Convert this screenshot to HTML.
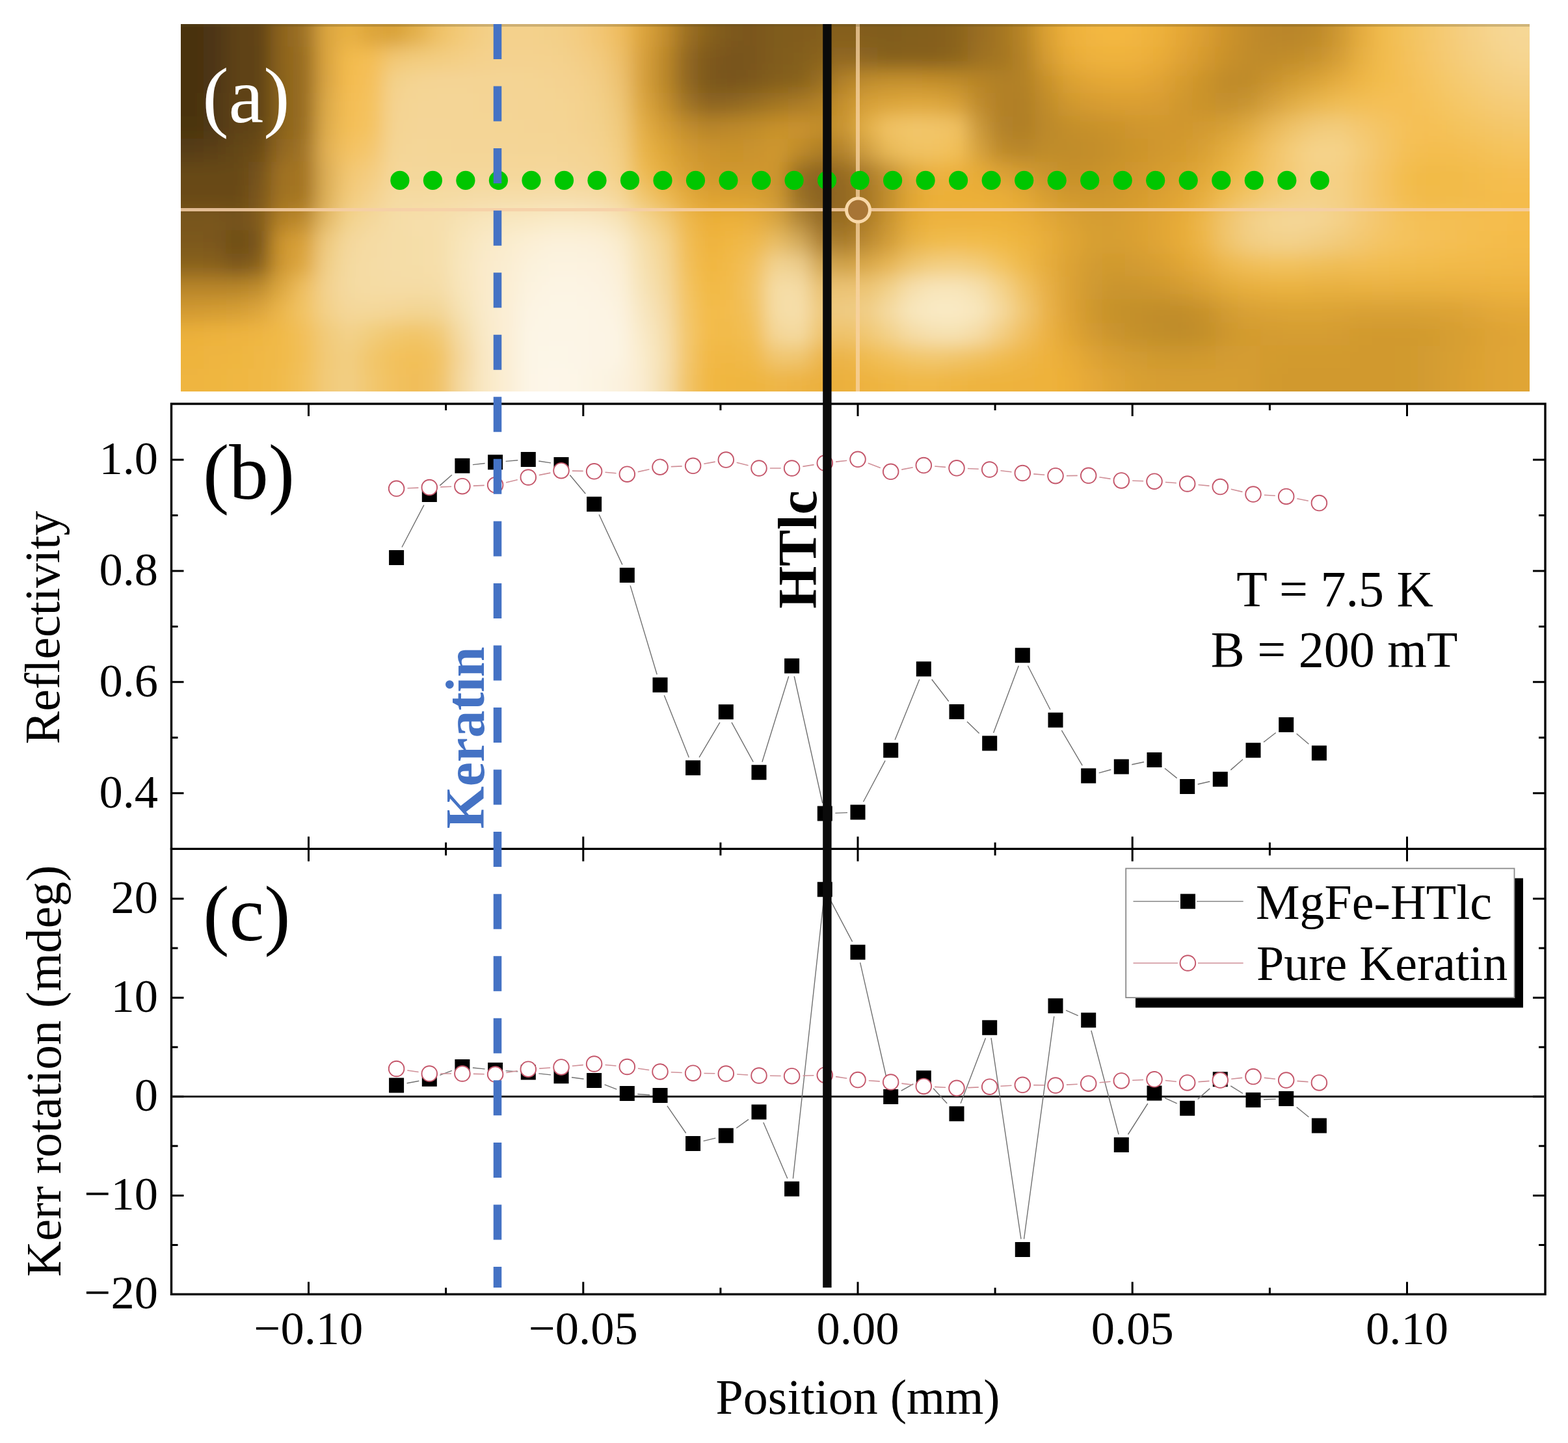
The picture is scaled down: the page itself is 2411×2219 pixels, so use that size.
<!DOCTYPE html>
<html><head><meta charset="utf-8"><title>Figure</title>
<style>html,body{margin:0;padding:0;background:#fff;}svg{display:block;}</style>
</head><body>
<svg width="2411" height="2219" viewBox="0 0 2411 2219">
<rect width="2411" height="2219" fill="#fff"/>
<defs><clipPath id="imgclip"><rect x="278.0" y="37.0" width="2074.0" height="565.0"/></clipPath>
<filter id="bl" x="78" y="-163" width="2474" height="965" filterUnits="userSpaceOnUse"><feGaussianBlur stdDeviation="14"/></filter></defs>
<g clip-path="url(#imgclip)"><g filter="url(#bl)"><rect x="208.9" y="-33.6" width="35.2" height="35.9" fill="#493311"/><rect x="243.4" y="-33.6" width="35.2" height="35.9" fill="#493311"/><rect x="278.0" y="-33.6" width="35.2" height="35.9" fill="#493311"/><rect x="312.6" y="-33.6" width="35.2" height="35.9" fill="#4d3612"/><rect x="347.1" y="-33.6" width="35.2" height="35.9" fill="#5e4215"/><rect x="381.7" y="-33.6" width="35.2" height="35.9" fill="#604316"/><rect x="416.3" y="-33.6" width="35.2" height="35.9" fill="#8d641f"/><rect x="450.8" y="-33.6" width="35.2" height="35.9" fill="#9e7225"/><rect x="485.4" y="-33.6" width="35.2" height="35.9" fill="#dca641"/><rect x="520.0" y="-33.6" width="35.2" height="35.9" fill="#e8b145"/><rect x="554.5" y="-33.6" width="35.2" height="35.9" fill="#dda53a"/><rect x="589.1" y="-33.6" width="35.2" height="35.9" fill="#d9a239"/><rect x="623.7" y="-33.6" width="35.2" height="35.9" fill="#e3b04c"/><rect x="658.2" y="-33.6" width="35.2" height="35.9" fill="#efc166"/><rect x="692.8" y="-33.6" width="35.2" height="35.9" fill="#f3ca78"/><rect x="727.4" y="-33.6" width="35.2" height="35.9" fill="#f3cf86"/><rect x="761.9" y="-33.6" width="35.2" height="35.9" fill="#f4d18c"/><rect x="796.5" y="-33.6" width="35.2" height="35.9" fill="#f4d18c"/><rect x="831.1" y="-33.6" width="35.2" height="35.9" fill="#f3d08a"/><rect x="865.6" y="-33.6" width="35.2" height="35.9" fill="#f3cd83"/><rect x="900.2" y="-33.6" width="35.2" height="35.9" fill="#f3c776"/><rect x="934.8" y="-33.6" width="35.2" height="35.9" fill="#efbd61"/><rect x="969.3" y="-33.6" width="35.2" height="35.9" fill="#dda53e"/><rect x="1003.9" y="-33.6" width="35.2" height="35.9" fill="#c58f2d"/><rect x="1038.5" y="-33.6" width="35.2" height="35.9" fill="#9c7022"/><rect x="1073.0" y="-33.6" width="35.2" height="35.9" fill="#87601d"/><rect x="1107.6" y="-33.6" width="35.2" height="35.9" fill="#7d591c"/><rect x="1142.2" y="-33.6" width="35.2" height="35.9" fill="#7a571b"/><rect x="1176.7" y="-33.6" width="35.2" height="35.9" fill="#7f5b1d"/><rect x="1211.3" y="-33.6" width="35.2" height="35.9" fill="#815c1d"/><rect x="1245.9" y="-33.6" width="35.2" height="35.9" fill="#845e1d"/><rect x="1280.4" y="-33.6" width="35.2" height="35.9" fill="#865f1d"/><rect x="1315.0" y="-33.6" width="35.2" height="35.9" fill="#825d1d"/><rect x="1349.6" y="-33.6" width="35.2" height="35.9" fill="#815d1d"/><rect x="1384.1" y="-33.6" width="35.2" height="35.9" fill="#835e1d"/><rect x="1418.7" y="-33.6" width="35.2" height="35.9" fill="#855f1e"/><rect x="1453.3" y="-33.6" width="35.2" height="35.9" fill="#8a631e"/><rect x="1487.8" y="-33.6" width="35.2" height="35.9" fill="#996d21"/><rect x="1522.4" y="-33.6" width="35.2" height="35.9" fill="#a47622"/><rect x="1557.0" y="-33.6" width="35.2" height="35.9" fill="#b88528"/><rect x="1591.5" y="-33.6" width="35.2" height="35.9" fill="#daa032"/><rect x="1626.1" y="-33.6" width="35.2" height="35.9" fill="#edb03a"/><rect x="1660.7" y="-33.6" width="35.2" height="35.9" fill="#f2b63f"/><rect x="1695.2" y="-33.6" width="35.2" height="35.9" fill="#f4b841"/><rect x="1729.8" y="-33.6" width="35.2" height="35.9" fill="#f2b63f"/><rect x="1764.4" y="-33.6" width="35.2" height="35.9" fill="#edb13b"/><rect x="1798.9" y="-33.6" width="35.2" height="35.9" fill="#e5a736"/><rect x="1833.5" y="-33.6" width="35.2" height="35.9" fill="#da9e30"/><rect x="1868.1" y="-33.6" width="35.2" height="35.9" fill="#cd932c"/><rect x="1902.6" y="-33.6" width="35.2" height="35.9" fill="#c28c29"/><rect x="1937.2" y="-33.6" width="35.2" height="35.9" fill="#bb8729"/><rect x="1971.8" y="-33.6" width="35.2" height="35.9" fill="#b98629"/><rect x="2006.3" y="-33.6" width="35.2" height="35.9" fill="#be8a2a"/><rect x="2040.9" y="-33.6" width="35.2" height="35.9" fill="#cd9731"/><rect x="2075.5" y="-33.6" width="35.2" height="35.9" fill="#e4ac40"/><rect x="2110.0" y="-33.6" width="35.2" height="35.9" fill="#f1bb4e"/><rect x="2144.6" y="-33.6" width="35.2" height="35.9" fill="#f3c25b"/><rect x="2179.2" y="-33.6" width="35.2" height="35.9" fill="#f4c76a"/><rect x="2213.7" y="-33.6" width="35.2" height="35.9" fill="#f5cc78"/><rect x="2248.3" y="-33.6" width="35.2" height="35.9" fill="#f5d085"/><rect x="2282.9" y="-33.6" width="35.2" height="35.9" fill="#f6d590"/><rect x="2317.4" y="-33.6" width="35.2" height="35.9" fill="#f6d795"/><rect x="2352.0" y="-33.6" width="35.2" height="35.9" fill="#f6d795"/><rect x="2386.6" y="-33.6" width="35.2" height="35.9" fill="#f6d795"/><rect x="208.9" y="1.7" width="35.2" height="35.9" fill="#493311"/><rect x="243.4" y="1.7" width="35.2" height="35.9" fill="#493311"/><rect x="278.0" y="1.7" width="35.2" height="35.9" fill="#493311"/><rect x="312.6" y="1.7" width="35.2" height="35.9" fill="#4d3612"/><rect x="347.1" y="1.7" width="35.2" height="35.9" fill="#5e4215"/><rect x="381.7" y="1.7" width="35.2" height="35.9" fill="#604316"/><rect x="416.3" y="1.7" width="35.2" height="35.9" fill="#8d641f"/><rect x="450.8" y="1.7" width="35.2" height="35.9" fill="#9e7225"/><rect x="485.4" y="1.7" width="35.2" height="35.9" fill="#dca641"/><rect x="520.0" y="1.7" width="35.2" height="35.9" fill="#e8b145"/><rect x="554.5" y="1.7" width="35.2" height="35.9" fill="#dda53a"/><rect x="589.1" y="1.7" width="35.2" height="35.9" fill="#d9a239"/><rect x="623.7" y="1.7" width="35.2" height="35.9" fill="#e3b04c"/><rect x="658.2" y="1.7" width="35.2" height="35.9" fill="#efc166"/><rect x="692.8" y="1.7" width="35.2" height="35.9" fill="#f3ca78"/><rect x="727.4" y="1.7" width="35.2" height="35.9" fill="#f3cf86"/><rect x="761.9" y="1.7" width="35.2" height="35.9" fill="#f4d18c"/><rect x="796.5" y="1.7" width="35.2" height="35.9" fill="#f4d18c"/><rect x="831.1" y="1.7" width="35.2" height="35.9" fill="#f3d08a"/><rect x="865.6" y="1.7" width="35.2" height="35.9" fill="#f3cd83"/><rect x="900.2" y="1.7" width="35.2" height="35.9" fill="#f3c776"/><rect x="934.8" y="1.7" width="35.2" height="35.9" fill="#efbd61"/><rect x="969.3" y="1.7" width="35.2" height="35.9" fill="#dda53e"/><rect x="1003.9" y="1.7" width="35.2" height="35.9" fill="#c58f2d"/><rect x="1038.5" y="1.7" width="35.2" height="35.9" fill="#9c7022"/><rect x="1073.0" y="1.7" width="35.2" height="35.9" fill="#87601d"/><rect x="1107.6" y="1.7" width="35.2" height="35.9" fill="#7d591c"/><rect x="1142.2" y="1.7" width="35.2" height="35.9" fill="#7a571b"/><rect x="1176.7" y="1.7" width="35.2" height="35.9" fill="#7f5b1d"/><rect x="1211.3" y="1.7" width="35.2" height="35.9" fill="#815c1d"/><rect x="1245.9" y="1.7" width="35.2" height="35.9" fill="#845e1d"/><rect x="1280.4" y="1.7" width="35.2" height="35.9" fill="#865f1d"/><rect x="1315.0" y="1.7" width="35.2" height="35.9" fill="#825d1d"/><rect x="1349.6" y="1.7" width="35.2" height="35.9" fill="#815d1d"/><rect x="1384.1" y="1.7" width="35.2" height="35.9" fill="#835e1d"/><rect x="1418.7" y="1.7" width="35.2" height="35.9" fill="#855f1e"/><rect x="1453.3" y="1.7" width="35.2" height="35.9" fill="#8a631e"/><rect x="1487.8" y="1.7" width="35.2" height="35.9" fill="#996d21"/><rect x="1522.4" y="1.7" width="35.2" height="35.9" fill="#a47622"/><rect x="1557.0" y="1.7" width="35.2" height="35.9" fill="#b88528"/><rect x="1591.5" y="1.7" width="35.2" height="35.9" fill="#daa032"/><rect x="1626.1" y="1.7" width="35.2" height="35.9" fill="#edb03a"/><rect x="1660.7" y="1.7" width="35.2" height="35.9" fill="#f2b63f"/><rect x="1695.2" y="1.7" width="35.2" height="35.9" fill="#f4b841"/><rect x="1729.8" y="1.7" width="35.2" height="35.9" fill="#f2b63f"/><rect x="1764.4" y="1.7" width="35.2" height="35.9" fill="#edb13b"/><rect x="1798.9" y="1.7" width="35.2" height="35.9" fill="#e5a736"/><rect x="1833.5" y="1.7" width="35.2" height="35.9" fill="#da9e30"/><rect x="1868.1" y="1.7" width="35.2" height="35.9" fill="#cd932c"/><rect x="1902.6" y="1.7" width="35.2" height="35.9" fill="#c28c29"/><rect x="1937.2" y="1.7" width="35.2" height="35.9" fill="#bb8729"/><rect x="1971.8" y="1.7" width="35.2" height="35.9" fill="#b98629"/><rect x="2006.3" y="1.7" width="35.2" height="35.9" fill="#be8a2a"/><rect x="2040.9" y="1.7" width="35.2" height="35.9" fill="#cd9731"/><rect x="2075.5" y="1.7" width="35.2" height="35.9" fill="#e4ac40"/><rect x="2110.0" y="1.7" width="35.2" height="35.9" fill="#f1bb4e"/><rect x="2144.6" y="1.7" width="35.2" height="35.9" fill="#f3c25b"/><rect x="2179.2" y="1.7" width="35.2" height="35.9" fill="#f4c76a"/><rect x="2213.7" y="1.7" width="35.2" height="35.9" fill="#f5cc78"/><rect x="2248.3" y="1.7" width="35.2" height="35.9" fill="#f5d085"/><rect x="2282.9" y="1.7" width="35.2" height="35.9" fill="#f6d590"/><rect x="2317.4" y="1.7" width="35.2" height="35.9" fill="#f6d795"/><rect x="2352.0" y="1.7" width="35.2" height="35.9" fill="#f6d795"/><rect x="2386.6" y="1.7" width="35.2" height="35.9" fill="#f6d795"/><rect x="208.9" y="37.0" width="35.2" height="35.9" fill="#493311"/><rect x="243.4" y="37.0" width="35.2" height="35.9" fill="#493311"/><rect x="278.0" y="37.0" width="35.2" height="35.9" fill="#493311"/><rect x="312.6" y="37.0" width="35.2" height="35.9" fill="#4d3612"/><rect x="347.1" y="37.0" width="35.2" height="35.9" fill="#5e4215"/><rect x="381.7" y="37.0" width="35.2" height="35.9" fill="#604316"/><rect x="416.3" y="37.0" width="35.2" height="35.9" fill="#8d641f"/><rect x="450.8" y="37.0" width="35.2" height="35.9" fill="#9e7225"/><rect x="485.4" y="37.0" width="35.2" height="35.9" fill="#dca641"/><rect x="520.0" y="37.0" width="35.2" height="35.9" fill="#e8b145"/><rect x="554.5" y="37.0" width="35.2" height="35.9" fill="#dda53a"/><rect x="589.1" y="37.0" width="35.2" height="35.9" fill="#d9a239"/><rect x="623.7" y="37.0" width="35.2" height="35.9" fill="#e3b04c"/><rect x="658.2" y="37.0" width="35.2" height="35.9" fill="#efc166"/><rect x="692.8" y="37.0" width="35.2" height="35.9" fill="#f3ca78"/><rect x="727.4" y="37.0" width="35.2" height="35.9" fill="#f3cf86"/><rect x="761.9" y="37.0" width="35.2" height="35.9" fill="#f4d18c"/><rect x="796.5" y="37.0" width="35.2" height="35.9" fill="#f4d18c"/><rect x="831.1" y="37.0" width="35.2" height="35.9" fill="#f3d08a"/><rect x="865.6" y="37.0" width="35.2" height="35.9" fill="#f3cd83"/><rect x="900.2" y="37.0" width="35.2" height="35.9" fill="#f3c776"/><rect x="934.8" y="37.0" width="35.2" height="35.9" fill="#efbd61"/><rect x="969.3" y="37.0" width="35.2" height="35.9" fill="#dda53e"/><rect x="1003.9" y="37.0" width="35.2" height="35.9" fill="#c58f2d"/><rect x="1038.5" y="37.0" width="35.2" height="35.9" fill="#9c7022"/><rect x="1073.0" y="37.0" width="35.2" height="35.9" fill="#87601d"/><rect x="1107.6" y="37.0" width="35.2" height="35.9" fill="#7d591c"/><rect x="1142.2" y="37.0" width="35.2" height="35.9" fill="#7a571b"/><rect x="1176.7" y="37.0" width="35.2" height="35.9" fill="#7f5b1d"/><rect x="1211.3" y="37.0" width="35.2" height="35.9" fill="#815c1d"/><rect x="1245.9" y="37.0" width="35.2" height="35.9" fill="#845e1d"/><rect x="1280.4" y="37.0" width="35.2" height="35.9" fill="#865f1d"/><rect x="1315.0" y="37.0" width="35.2" height="35.9" fill="#825d1d"/><rect x="1349.6" y="37.0" width="35.2" height="35.9" fill="#815d1d"/><rect x="1384.1" y="37.0" width="35.2" height="35.9" fill="#835e1d"/><rect x="1418.7" y="37.0" width="35.2" height="35.9" fill="#855f1e"/><rect x="1453.3" y="37.0" width="35.2" height="35.9" fill="#8a631e"/><rect x="1487.8" y="37.0" width="35.2" height="35.9" fill="#996d21"/><rect x="1522.4" y="37.0" width="35.2" height="35.9" fill="#a47622"/><rect x="1557.0" y="37.0" width="35.2" height="35.9" fill="#b88528"/><rect x="1591.5" y="37.0" width="35.2" height="35.9" fill="#daa032"/><rect x="1626.1" y="37.0" width="35.2" height="35.9" fill="#edb03a"/><rect x="1660.7" y="37.0" width="35.2" height="35.9" fill="#f2b63f"/><rect x="1695.2" y="37.0" width="35.2" height="35.9" fill="#f4b841"/><rect x="1729.8" y="37.0" width="35.2" height="35.9" fill="#f2b63f"/><rect x="1764.4" y="37.0" width="35.2" height="35.9" fill="#edb13b"/><rect x="1798.9" y="37.0" width="35.2" height="35.9" fill="#e5a736"/><rect x="1833.5" y="37.0" width="35.2" height="35.9" fill="#da9e30"/><rect x="1868.1" y="37.0" width="35.2" height="35.9" fill="#cd932c"/><rect x="1902.6" y="37.0" width="35.2" height="35.9" fill="#c28c29"/><rect x="1937.2" y="37.0" width="35.2" height="35.9" fill="#bb8729"/><rect x="1971.8" y="37.0" width="35.2" height="35.9" fill="#b98629"/><rect x="2006.3" y="37.0" width="35.2" height="35.9" fill="#be8a2a"/><rect x="2040.9" y="37.0" width="35.2" height="35.9" fill="#cd9731"/><rect x="2075.5" y="37.0" width="35.2" height="35.9" fill="#e4ac40"/><rect x="2110.0" y="37.0" width="35.2" height="35.9" fill="#f1bb4e"/><rect x="2144.6" y="37.0" width="35.2" height="35.9" fill="#f3c25b"/><rect x="2179.2" y="37.0" width="35.2" height="35.9" fill="#f4c76a"/><rect x="2213.7" y="37.0" width="35.2" height="35.9" fill="#f5cc78"/><rect x="2248.3" y="37.0" width="35.2" height="35.9" fill="#f5d085"/><rect x="2282.9" y="37.0" width="35.2" height="35.9" fill="#f6d590"/><rect x="2317.4" y="37.0" width="35.2" height="35.9" fill="#f6d795"/><rect x="2352.0" y="37.0" width="35.2" height="35.9" fill="#f6d795"/><rect x="2386.6" y="37.0" width="35.2" height="35.9" fill="#f6d795"/><rect x="208.9" y="72.3" width="35.2" height="35.9" fill="#493311"/><rect x="243.4" y="72.3" width="35.2" height="35.9" fill="#493311"/><rect x="278.0" y="72.3" width="35.2" height="35.9" fill="#493311"/><rect x="312.6" y="72.3" width="35.2" height="35.9" fill="#4d3612"/><rect x="347.1" y="72.3" width="35.2" height="35.9" fill="#5e4215"/><rect x="381.7" y="72.3" width="35.2" height="35.9" fill="#5e4215"/><rect x="416.3" y="72.3" width="35.2" height="35.9" fill="#8d641f"/><rect x="450.8" y="72.3" width="35.2" height="35.9" fill="#9a6e23"/><rect x="485.4" y="72.3" width="35.2" height="35.9" fill="#dba541"/><rect x="520.0" y="72.3" width="35.2" height="35.9" fill="#f3bb4d"/><rect x="554.5" y="72.3" width="35.2" height="35.9" fill="#f4be55"/><rect x="589.1" y="72.3" width="35.2" height="35.9" fill="#f2c874"/><rect x="623.7" y="72.3" width="35.2" height="35.9" fill="#f3cc7d"/><rect x="658.2" y="72.3" width="35.2" height="35.9" fill="#f3cd81"/><rect x="692.8" y="72.3" width="35.2" height="35.9" fill="#f4cf86"/><rect x="727.4" y="72.3" width="35.2" height="35.9" fill="#f4d18d"/><rect x="761.9" y="72.3" width="35.2" height="35.9" fill="#f4d28f"/><rect x="796.5" y="72.3" width="35.2" height="35.9" fill="#f4d28f"/><rect x="831.1" y="72.3" width="35.2" height="35.9" fill="#f4d28e"/><rect x="865.6" y="72.3" width="35.2" height="35.9" fill="#f3cf89"/><rect x="900.2" y="72.3" width="35.2" height="35.9" fill="#f3cb7f"/><rect x="934.8" y="72.3" width="35.2" height="35.9" fill="#eec06b"/><rect x="969.3" y="72.3" width="35.2" height="35.9" fill="#d9a23d"/><rect x="1003.9" y="72.3" width="35.2" height="35.9" fill="#bd892b"/><rect x="1038.5" y="72.3" width="35.2" height="35.9" fill="#926820"/><rect x="1073.0" y="72.3" width="35.2" height="35.9" fill="#7e591c"/><rect x="1107.6" y="72.3" width="35.2" height="35.9" fill="#79551b"/><rect x="1142.2" y="72.3" width="35.2" height="35.9" fill="#7a571b"/><rect x="1176.7" y="72.3" width="35.2" height="35.9" fill="#805c1d"/><rect x="1211.3" y="72.3" width="35.2" height="35.9" fill="#835e1d"/><rect x="1245.9" y="72.3" width="35.2" height="35.9" fill="#8b631f"/><rect x="1280.4" y="72.3" width="35.2" height="35.9" fill="#936921"/><rect x="1315.0" y="72.3" width="35.2" height="35.9" fill="#8c6520"/><rect x="1349.6" y="72.3" width="35.2" height="35.9" fill="#86611f"/><rect x="1384.1" y="72.3" width="35.2" height="35.9" fill="#87611e"/><rect x="1418.7" y="72.3" width="35.2" height="35.9" fill="#87611e"/><rect x="1453.3" y="72.3" width="35.2" height="35.9" fill="#8d651f"/><rect x="1487.8" y="72.3" width="35.2" height="35.9" fill="#9d7122"/><rect x="1522.4" y="72.3" width="35.2" height="35.9" fill="#a47623"/><rect x="1557.0" y="72.3" width="35.2" height="35.9" fill="#b48227"/><rect x="1591.5" y="72.3" width="35.2" height="35.9" fill="#d49b30"/><rect x="1626.1" y="72.3" width="35.2" height="35.9" fill="#e7ab37"/><rect x="1660.7" y="72.3" width="35.2" height="35.9" fill="#edb13c"/><rect x="1695.2" y="72.3" width="35.2" height="35.9" fill="#efb33d"/><rect x="1729.8" y="72.3" width="35.2" height="35.9" fill="#eeb13c"/><rect x="1764.4" y="72.3" width="35.2" height="35.9" fill="#e9ac39"/><rect x="1798.9" y="72.3" width="35.2" height="35.9" fill="#e0a334"/><rect x="1833.5" y="72.3" width="35.2" height="35.9" fill="#d59a2f"/><rect x="1868.1" y="72.3" width="35.2" height="35.9" fill="#c9912b"/><rect x="1902.6" y="72.3" width="35.2" height="35.9" fill="#c18c2a"/><rect x="1937.2" y="72.3" width="35.2" height="35.9" fill="#bf8b2a"/><rect x="1971.8" y="72.3" width="35.2" height="35.9" fill="#c28d2c"/><rect x="2006.3" y="72.3" width="35.2" height="35.9" fill="#c8932f"/><rect x="2040.9" y="72.3" width="35.2" height="35.9" fill="#d59e36"/><rect x="2075.5" y="72.3" width="35.2" height="35.9" fill="#e7b042"/><rect x="2110.0" y="72.3" width="35.2" height="35.9" fill="#f2bb4e"/><rect x="2144.6" y="72.3" width="35.2" height="35.9" fill="#f4c15a"/><rect x="2179.2" y="72.3" width="35.2" height="35.9" fill="#f5c667"/><rect x="2213.7" y="72.3" width="35.2" height="35.9" fill="#f5cb74"/><rect x="2248.3" y="72.3" width="35.2" height="35.9" fill="#f5cf80"/><rect x="2282.9" y="72.3" width="35.2" height="35.9" fill="#f5d38a"/><rect x="2317.4" y="72.3" width="35.2" height="35.9" fill="#f6d590"/><rect x="2352.0" y="72.3" width="35.2" height="35.9" fill="#f6d590"/><rect x="2386.6" y="72.3" width="35.2" height="35.9" fill="#f6d590"/><rect x="208.9" y="107.6" width="35.2" height="35.9" fill="#493311"/><rect x="243.4" y="107.6" width="35.2" height="35.9" fill="#493311"/><rect x="278.0" y="107.6" width="35.2" height="35.9" fill="#493311"/><rect x="312.6" y="107.6" width="35.2" height="35.9" fill="#4e3612"/><rect x="347.1" y="107.6" width="35.2" height="35.9" fill="#5e4215"/><rect x="381.7" y="107.6" width="35.2" height="35.9" fill="#5e4215"/><rect x="416.3" y="107.6" width="35.2" height="35.9" fill="#8b631e"/><rect x="450.8" y="107.6" width="35.2" height="35.9" fill="#996d21"/><rect x="485.4" y="107.6" width="35.2" height="35.9" fill="#daa644"/><rect x="520.0" y="107.6" width="35.2" height="35.9" fill="#f4bc50"/><rect x="554.5" y="107.6" width="35.2" height="35.9" fill="#f4c05c"/><rect x="589.1" y="107.6" width="35.2" height="35.9" fill="#f3d18b"/><rect x="623.7" y="107.6" width="35.2" height="35.9" fill="#f4d493"/><rect x="658.2" y="107.6" width="35.2" height="35.9" fill="#f4d495"/><rect x="692.8" y="107.6" width="35.2" height="35.9" fill="#f4d495"/><rect x="727.4" y="107.6" width="35.2" height="35.9" fill="#f4d494"/><rect x="761.9" y="107.6" width="35.2" height="35.9" fill="#f4d494"/><rect x="796.5" y="107.6" width="35.2" height="35.9" fill="#f4d493"/><rect x="831.1" y="107.6" width="35.2" height="35.9" fill="#f4d392"/><rect x="865.6" y="107.6" width="35.2" height="35.9" fill="#f4d18e"/><rect x="900.2" y="107.6" width="35.2" height="35.9" fill="#f3ce86"/><rect x="934.8" y="107.6" width="35.2" height="35.9" fill="#eec372"/><rect x="969.3" y="107.6" width="35.2" height="35.9" fill="#d8a23e"/><rect x="1003.9" y="107.6" width="35.2" height="35.9" fill="#bb882b"/><rect x="1038.5" y="107.6" width="35.2" height="35.9" fill="#916720"/><rect x="1073.0" y="107.6" width="35.2" height="35.9" fill="#7c581c"/><rect x="1107.6" y="107.6" width="35.2" height="35.9" fill="#78551b"/><rect x="1142.2" y="107.6" width="35.2" height="35.9" fill="#7d591c"/><rect x="1176.7" y="107.6" width="35.2" height="35.9" fill="#845f1d"/><rect x="1211.3" y="107.6" width="35.2" height="35.9" fill="#88621e"/><rect x="1245.9" y="107.6" width="35.2" height="35.9" fill="#9a6f22"/><rect x="1280.4" y="107.6" width="35.2" height="35.9" fill="#b38229"/><rect x="1315.0" y="107.6" width="35.2" height="35.9" fill="#c08d2e"/><rect x="1349.6" y="107.6" width="35.2" height="35.9" fill="#c5912e"/><rect x="1384.1" y="107.6" width="35.2" height="35.9" fill="#c6912d"/><rect x="1418.7" y="107.6" width="35.2" height="35.9" fill="#c48f2c"/><rect x="1453.3" y="107.6" width="35.2" height="35.9" fill="#c08c2b"/><rect x="1487.8" y="107.6" width="35.2" height="35.9" fill="#b88528"/><rect x="1522.4" y="107.6" width="35.2" height="35.9" fill="#b18027"/><rect x="1557.0" y="107.6" width="35.2" height="35.9" fill="#b28127"/><rect x="1591.5" y="107.6" width="35.2" height="35.9" fill="#c7912c"/><rect x="1626.1" y="107.6" width="35.2" height="35.9" fill="#daa032"/><rect x="1660.7" y="107.6" width="35.2" height="35.9" fill="#e2a635"/><rect x="1695.2" y="107.6" width="35.2" height="35.9" fill="#e5a836"/><rect x="1729.8" y="107.6" width="35.2" height="35.9" fill="#e5a836"/><rect x="1764.4" y="107.6" width="35.2" height="35.9" fill="#e0a334"/><rect x="1798.9" y="107.6" width="35.2" height="35.9" fill="#d69b2f"/><rect x="1833.5" y="107.6" width="35.2" height="35.9" fill="#cb932c"/><rect x="1868.1" y="107.6" width="35.2" height="35.9" fill="#c08b2a"/><rect x="1902.6" y="107.6" width="35.2" height="35.9" fill="#bf8b2a"/><rect x="1937.2" y="107.6" width="35.2" height="35.9" fill="#c9932d"/><rect x="1971.8" y="107.6" width="35.2" height="35.9" fill="#d29c32"/><rect x="2006.3" y="107.6" width="35.2" height="35.9" fill="#dba439"/><rect x="2040.9" y="107.6" width="35.2" height="35.9" fill="#e5ad40"/><rect x="2075.5" y="107.6" width="35.2" height="35.9" fill="#eeb647"/><rect x="2110.0" y="107.6" width="35.2" height="35.9" fill="#f3bd4e"/><rect x="2144.6" y="107.6" width="35.2" height="35.9" fill="#f4c056"/><rect x="2179.2" y="107.6" width="35.2" height="35.9" fill="#f5c460"/><rect x="2213.7" y="107.6" width="35.2" height="35.9" fill="#f5c96c"/><rect x="2248.3" y="107.6" width="35.2" height="35.9" fill="#f5cc77"/><rect x="2282.9" y="107.6" width="35.2" height="35.9" fill="#f5cf80"/><rect x="2317.4" y="107.6" width="35.2" height="35.9" fill="#f5d085"/><rect x="2352.0" y="107.6" width="35.2" height="35.9" fill="#f5d085"/><rect x="2386.6" y="107.6" width="35.2" height="35.9" fill="#f5d085"/><rect x="208.9" y="142.9" width="35.2" height="35.9" fill="#493311"/><rect x="243.4" y="142.9" width="35.2" height="35.9" fill="#493311"/><rect x="278.0" y="142.9" width="35.2" height="35.9" fill="#493311"/><rect x="312.6" y="142.9" width="35.2" height="35.9" fill="#4f3712"/><rect x="347.1" y="142.9" width="35.2" height="35.9" fill="#5e4215"/><rect x="381.7" y="142.9" width="35.2" height="35.9" fill="#5e4215"/><rect x="416.3" y="142.9" width="35.2" height="35.9" fill="#8b631e"/><rect x="450.8" y="142.9" width="35.2" height="35.9" fill="#996d21"/><rect x="485.4" y="142.9" width="35.2" height="35.9" fill="#ddaa4a"/><rect x="520.0" y="142.9" width="35.2" height="35.9" fill="#f4be54"/><rect x="554.5" y="142.9" width="35.2" height="35.9" fill="#f4c25f"/><rect x="589.1" y="142.9" width="35.2" height="35.9" fill="#f4d391"/><rect x="623.7" y="142.9" width="35.2" height="35.9" fill="#f4d596"/><rect x="658.2" y="142.9" width="35.2" height="35.9" fill="#f4d596"/><rect x="692.8" y="142.9" width="35.2" height="35.9" fill="#f4d596"/><rect x="727.4" y="142.9" width="35.2" height="35.9" fill="#f4d495"/><rect x="761.9" y="142.9" width="35.2" height="35.9" fill="#f4d495"/><rect x="796.5" y="142.9" width="35.2" height="35.9" fill="#f4d494"/><rect x="831.1" y="142.9" width="35.2" height="35.9" fill="#f4d493"/><rect x="865.6" y="142.9" width="35.2" height="35.9" fill="#f4d390"/><rect x="900.2" y="142.9" width="35.2" height="35.9" fill="#f3d08a"/><rect x="934.8" y="142.9" width="35.2" height="35.9" fill="#efc778"/><rect x="969.3" y="142.9" width="35.2" height="35.9" fill="#dda741"/><rect x="1003.9" y="142.9" width="35.2" height="35.9" fill="#c5902e"/><rect x="1038.5" y="142.9" width="35.2" height="35.9" fill="#a07425"/><rect x="1073.0" y="142.9" width="35.2" height="35.9" fill="#8e6520"/><rect x="1107.6" y="142.9" width="35.2" height="35.9" fill="#906720"/><rect x="1142.2" y="142.9" width="35.2" height="35.9" fill="#996e22"/><rect x="1176.7" y="142.9" width="35.2" height="35.9" fill="#a37624"/><rect x="1211.3" y="142.9" width="35.2" height="35.9" fill="#ab7c26"/><rect x="1245.9" y="142.9" width="35.2" height="35.9" fill="#b48228"/><rect x="1280.4" y="142.9" width="35.2" height="35.9" fill="#c6912f"/><rect x="1315.0" y="142.9" width="35.2" height="35.9" fill="#d7a038"/><rect x="1349.6" y="142.9" width="35.2" height="35.9" fill="#dda63b"/><rect x="1384.1" y="142.9" width="35.2" height="35.9" fill="#e0a93d"/><rect x="1418.7" y="142.9" width="35.2" height="35.9" fill="#dfa83c"/><rect x="1453.3" y="142.9" width="35.2" height="35.9" fill="#d8a138"/><rect x="1487.8" y="142.9" width="35.2" height="35.9" fill="#c08c2d"/><rect x="1522.4" y="142.9" width="35.2" height="35.9" fill="#b28027"/><rect x="1557.0" y="142.9" width="35.2" height="35.9" fill="#b07f27"/><rect x="1591.5" y="142.9" width="35.2" height="35.9" fill="#c08c2a"/><rect x="1626.1" y="142.9" width="35.2" height="35.9" fill="#cf972e"/><rect x="1660.7" y="142.9" width="35.2" height="35.9" fill="#d59b30"/><rect x="1695.2" y="142.9" width="35.2" height="35.9" fill="#d99e31"/><rect x="1729.8" y="142.9" width="35.2" height="35.9" fill="#da9e31"/><rect x="1764.4" y="142.9" width="35.2" height="35.9" fill="#d89c30"/><rect x="1798.9" y="142.9" width="35.2" height="35.9" fill="#d0972d"/><rect x="1833.5" y="142.9" width="35.2" height="35.9" fill="#ca932c"/><rect x="1868.1" y="142.9" width="35.2" height="35.9" fill="#c5902d"/><rect x="1902.6" y="142.9" width="35.2" height="35.9" fill="#c99532"/><rect x="1937.2" y="142.9" width="35.2" height="35.9" fill="#d7a23c"/><rect x="1971.8" y="142.9" width="35.2" height="35.9" fill="#e2ae46"/><rect x="2006.3" y="142.9" width="35.2" height="35.9" fill="#eab750"/><rect x="2040.9" y="142.9" width="35.2" height="35.9" fill="#f0bd55"/><rect x="2075.5" y="142.9" width="35.2" height="35.9" fill="#f3bf56"/><rect x="2110.0" y="142.9" width="35.2" height="35.9" fill="#f5c056"/><rect x="2144.6" y="142.9" width="35.2" height="35.9" fill="#f5c056"/><rect x="2179.2" y="142.9" width="35.2" height="35.9" fill="#f5c25a"/><rect x="2213.7" y="142.9" width="35.2" height="35.9" fill="#f5c664"/><rect x="2248.3" y="142.9" width="35.2" height="35.9" fill="#f5c96c"/><rect x="2282.9" y="142.9" width="35.2" height="35.9" fill="#f5cb74"/><rect x="2317.4" y="142.9" width="35.2" height="35.9" fill="#f5cc78"/><rect x="2352.0" y="142.9" width="35.2" height="35.9" fill="#f5cc78"/><rect x="2386.6" y="142.9" width="35.2" height="35.9" fill="#f5cc78"/><rect x="208.9" y="178.2" width="35.2" height="35.9" fill="#4b3411"/><rect x="243.4" y="178.2" width="35.2" height="35.9" fill="#4b3411"/><rect x="278.0" y="178.2" width="35.2" height="35.9" fill="#4b3411"/><rect x="312.6" y="178.2" width="35.2" height="35.9" fill="#503813"/><rect x="347.1" y="178.2" width="35.2" height="35.9" fill="#5e4215"/><rect x="381.7" y="178.2" width="35.2" height="35.9" fill="#614416"/><rect x="416.3" y="178.2" width="35.2" height="35.9" fill="#8b631e"/><rect x="450.8" y="178.2" width="35.2" height="35.9" fill="#9a6e22"/><rect x="485.4" y="178.2" width="35.2" height="35.9" fill="#dfad4e"/><rect x="520.0" y="178.2" width="35.2" height="35.9" fill="#f4bf57"/><rect x="554.5" y="178.2" width="35.2" height="35.9" fill="#f4c362"/><rect x="589.1" y="178.2" width="35.2" height="35.9" fill="#f4d493"/><rect x="623.7" y="178.2" width="35.2" height="35.9" fill="#f4d597"/><rect x="658.2" y="178.2" width="35.2" height="35.9" fill="#f4d597"/><rect x="692.8" y="178.2" width="35.2" height="35.9" fill="#f4d596"/><rect x="727.4" y="178.2" width="35.2" height="35.9" fill="#f4d596"/><rect x="761.9" y="178.2" width="35.2" height="35.9" fill="#f4d595"/><rect x="796.5" y="178.2" width="35.2" height="35.9" fill="#f4d495"/><rect x="831.1" y="178.2" width="35.2" height="35.9" fill="#f4d494"/><rect x="865.6" y="178.2" width="35.2" height="35.9" fill="#f4d391"/><rect x="900.2" y="178.2" width="35.2" height="35.9" fill="#f3d18d"/><rect x="934.8" y="178.2" width="35.2" height="35.9" fill="#f1cb7e"/><rect x="969.3" y="178.2" width="35.2" height="35.9" fill="#e4af46"/><rect x="1003.9" y="178.2" width="35.2" height="35.9" fill="#d49d34"/><rect x="1038.5" y="178.2" width="35.2" height="35.9" fill="#c18d2d"/><rect x="1073.0" y="178.2" width="35.2" height="35.9" fill="#b78529"/><rect x="1107.6" y="178.2" width="35.2" height="35.9" fill="#bc8829"/><rect x="1142.2" y="178.2" width="35.2" height="35.9" fill="#c08c2a"/><rect x="1176.7" y="178.2" width="35.2" height="35.9" fill="#c7912c"/><rect x="1211.3" y="178.2" width="35.2" height="35.9" fill="#ca932d"/><rect x="1245.9" y="178.2" width="35.2" height="35.9" fill="#c38e2b"/><rect x="1280.4" y="178.2" width="35.2" height="35.9" fill="#c99533"/><rect x="1315.0" y="178.2" width="35.2" height="35.9" fill="#e3b049"/><rect x="1349.6" y="178.2" width="35.2" height="35.9" fill="#f1c263"/><rect x="1384.1" y="178.2" width="35.2" height="35.9" fill="#f2c66a"/><rect x="1418.7" y="178.2" width="35.2" height="35.9" fill="#f2c569"/><rect x="1453.3" y="178.2" width="35.2" height="35.9" fill="#f0c162"/><rect x="1487.8" y="178.2" width="35.2" height="35.9" fill="#cb993a"/><rect x="1522.4" y="178.2" width="35.2" height="35.9" fill="#b28229"/><rect x="1557.0" y="178.2" width="35.2" height="35.9" fill="#b07f27"/><rect x="1591.5" y="178.2" width="35.2" height="35.9" fill="#bc8929"/><rect x="1626.1" y="178.2" width="35.2" height="35.9" fill="#c38e2a"/><rect x="1660.7" y="178.2" width="35.2" height="35.9" fill="#c7912b"/><rect x="1695.2" y="178.2" width="35.2" height="35.9" fill="#cb932c"/><rect x="1729.8" y="178.2" width="35.2" height="35.9" fill="#cf962d"/><rect x="1764.4" y="178.2" width="35.2" height="35.9" fill="#d0972d"/><rect x="1798.9" y="178.2" width="35.2" height="35.9" fill="#d0972d"/><rect x="1833.5" y="178.2" width="35.2" height="35.9" fill="#d29a30"/><rect x="1868.1" y="178.2" width="35.2" height="35.9" fill="#d7a035"/><rect x="1902.6" y="178.2" width="35.2" height="35.9" fill="#dfaa42"/><rect x="1937.2" y="178.2" width="35.2" height="35.9" fill="#e9b857"/><rect x="1971.8" y="178.2" width="35.2" height="35.9" fill="#efc369"/><rect x="2006.3" y="178.2" width="35.2" height="35.9" fill="#f2ca79"/><rect x="2040.9" y="178.2" width="35.2" height="35.9" fill="#f3cc7b"/><rect x="2075.5" y="178.2" width="35.2" height="35.9" fill="#f4c86f"/><rect x="2110.0" y="178.2" width="35.2" height="35.9" fill="#f4c464"/><rect x="2144.6" y="178.2" width="35.2" height="35.9" fill="#f5c159"/><rect x="2179.2" y="178.2" width="35.2" height="35.9" fill="#f5c055"/><rect x="2213.7" y="178.2" width="35.2" height="35.9" fill="#f4c25a"/><rect x="2248.3" y="178.2" width="35.2" height="35.9" fill="#f4c460"/><rect x="2282.9" y="178.2" width="35.2" height="35.9" fill="#f4c667"/><rect x="2317.4" y="178.2" width="35.2" height="35.9" fill="#f4c76a"/><rect x="2352.0" y="178.2" width="35.2" height="35.9" fill="#f4c76a"/><rect x="2386.6" y="178.2" width="35.2" height="35.9" fill="#f4c76a"/><rect x="208.9" y="213.6" width="35.2" height="35.9" fill="#573d14"/><rect x="243.4" y="213.6" width="35.2" height="35.9" fill="#573d14"/><rect x="278.0" y="213.6" width="35.2" height="35.9" fill="#573d14"/><rect x="312.6" y="213.6" width="35.2" height="35.9" fill="#5b4015"/><rect x="347.1" y="213.6" width="35.2" height="35.9" fill="#644617"/><rect x="381.7" y="213.6" width="35.2" height="35.9" fill="#6c4c19"/><rect x="416.3" y="213.6" width="35.2" height="35.9" fill="#926820"/><rect x="450.8" y="213.6" width="35.2" height="35.9" fill="#a17425"/><rect x="485.4" y="213.6" width="35.2" height="35.9" fill="#e2b154"/><rect x="520.0" y="213.6" width="35.2" height="35.9" fill="#f4c262"/><rect x="554.5" y="213.6" width="35.2" height="35.9" fill="#f4c76f"/><rect x="589.1" y="213.6" width="35.2" height="35.9" fill="#f4d596"/><rect x="623.7" y="213.6" width="35.2" height="35.9" fill="#f4d698"/><rect x="658.2" y="213.6" width="35.2" height="35.9" fill="#f4d697"/><rect x="692.8" y="213.6" width="35.2" height="35.9" fill="#f4d597"/><rect x="727.4" y="213.6" width="35.2" height="35.9" fill="#f4d597"/><rect x="761.9" y="213.6" width="35.2" height="35.9" fill="#f4d597"/><rect x="796.5" y="213.6" width="35.2" height="35.9" fill="#f4d596"/><rect x="831.1" y="213.6" width="35.2" height="35.9" fill="#f4d596"/><rect x="865.6" y="213.6" width="35.2" height="35.9" fill="#f4d494"/><rect x="900.2" y="213.6" width="35.2" height="35.9" fill="#f4d390"/><rect x="934.8" y="213.6" width="35.2" height="35.9" fill="#f3ce83"/><rect x="969.3" y="213.6" width="35.2" height="35.9" fill="#e9b54c"/><rect x="1003.9" y="213.6" width="35.2" height="35.9" fill="#dfa739"/><rect x="1038.5" y="213.6" width="35.2" height="35.9" fill="#d19a32"/><rect x="1073.0" y="213.6" width="35.2" height="35.9" fill="#ca932d"/><rect x="1107.6" y="213.6" width="35.2" height="35.9" fill="#c9922c"/><rect x="1142.2" y="213.6" width="35.2" height="35.9" fill="#ca932d"/><rect x="1176.7" y="213.6" width="35.2" height="35.9" fill="#cf982f"/><rect x="1211.3" y="213.6" width="35.2" height="35.9" fill="#c08c2c"/><rect x="1245.9" y="213.6" width="35.2" height="35.9" fill="#ae7e27"/><rect x="1280.4" y="213.6" width="35.2" height="35.9" fill="#b5852d"/><rect x="1315.0" y="213.6" width="35.2" height="35.9" fill="#d1a042"/><rect x="1349.6" y="213.6" width="35.2" height="35.9" fill="#e9ba59"/><rect x="1384.1" y="213.6" width="35.2" height="35.9" fill="#f0c262"/><rect x="1418.7" y="213.6" width="35.2" height="35.9" fill="#f2c362"/><rect x="1453.3" y="213.6" width="35.2" height="35.9" fill="#f2c059"/><rect x="1487.8" y="213.6" width="35.2" height="35.9" fill="#d6a23c"/><rect x="1522.4" y="213.6" width="35.2" height="35.9" fill="#bd8a2c"/><rect x="1557.0" y="213.6" width="35.2" height="35.9" fill="#b88629"/><rect x="1591.5" y="213.6" width="35.2" height="35.9" fill="#bf8c2a"/><rect x="1626.1" y="213.6" width="35.2" height="35.9" fill="#c08c29"/><rect x="1660.7" y="213.6" width="35.2" height="35.9" fill="#c28d2a"/><rect x="1695.2" y="213.6" width="35.2" height="35.9" fill="#c6902b"/><rect x="1729.8" y="213.6" width="35.2" height="35.9" fill="#cc942c"/><rect x="1764.4" y="213.6" width="35.2" height="35.9" fill="#d0972d"/><rect x="1798.9" y="213.6" width="35.2" height="35.9" fill="#d39a2f"/><rect x="1833.5" y="213.6" width="35.2" height="35.9" fill="#d9a134"/><rect x="1868.1" y="213.6" width="35.2" height="35.9" fill="#e3ac3d"/><rect x="1902.6" y="213.6" width="35.2" height="35.9" fill="#ecb74d"/><rect x="1937.2" y="213.6" width="35.2" height="35.9" fill="#f2c366"/><rect x="1971.8" y="213.6" width="35.2" height="35.9" fill="#f4cd7c"/><rect x="2006.3" y="213.6" width="35.2" height="35.9" fill="#f5d38b"/><rect x="2040.9" y="213.6" width="35.2" height="35.9" fill="#f5d38a"/><rect x="2075.5" y="213.6" width="35.2" height="35.9" fill="#f4cc79"/><rect x="2110.0" y="213.6" width="35.2" height="35.9" fill="#f4c568"/><rect x="2144.6" y="213.6" width="35.2" height="35.9" fill="#f4c056"/><rect x="2179.2" y="213.6" width="35.2" height="35.9" fill="#f4be4f"/><rect x="2213.7" y="213.6" width="35.2" height="35.9" fill="#f4be51"/><rect x="2248.3" y="213.6" width="35.2" height="35.9" fill="#f4c055"/><rect x="2282.9" y="213.6" width="35.2" height="35.9" fill="#f4c25a"/><rect x="2317.4" y="213.6" width="35.2" height="35.9" fill="#f5c35d"/><rect x="2352.0" y="213.6" width="35.2" height="35.9" fill="#f5c35d"/><rect x="2386.6" y="213.6" width="35.2" height="35.9" fill="#f5c35d"/><rect x="208.9" y="248.9" width="35.2" height="35.9" fill="#684918"/><rect x="243.4" y="248.9" width="35.2" height="35.9" fill="#684918"/><rect x="278.0" y="248.9" width="35.2" height="35.9" fill="#684918"/><rect x="312.6" y="248.9" width="35.2" height="35.9" fill="#684918"/><rect x="347.1" y="248.9" width="35.2" height="35.9" fill="#684918"/><rect x="381.7" y="248.9" width="35.2" height="35.9" fill="#76531a"/><rect x="416.3" y="248.9" width="35.2" height="35.9" fill="#a07222"/><rect x="450.8" y="248.9" width="35.2" height="35.9" fill="#a47524"/><rect x="485.4" y="248.9" width="35.2" height="35.9" fill="#ddaf57"/><rect x="520.0" y="248.9" width="35.2" height="35.9" fill="#f3c772"/><rect x="554.5" y="248.9" width="35.2" height="35.9" fill="#f4cd81"/><rect x="589.1" y="248.9" width="35.2" height="35.9" fill="#f5d79a"/><rect x="623.7" y="248.9" width="35.2" height="35.9" fill="#f4d79a"/><rect x="658.2" y="248.9" width="35.2" height="35.9" fill="#f4d79a"/><rect x="692.8" y="248.9" width="35.2" height="35.9" fill="#f4d79a"/><rect x="727.4" y="248.9" width="35.2" height="35.9" fill="#f4d79a"/><rect x="761.9" y="248.9" width="35.2" height="35.9" fill="#f5d79a"/><rect x="796.5" y="248.9" width="35.2" height="35.9" fill="#f5d79a"/><rect x="831.1" y="248.9" width="35.2" height="35.9" fill="#f5d79b"/><rect x="865.6" y="248.9" width="35.2" height="35.9" fill="#f4d699"/><rect x="900.2" y="248.9" width="35.2" height="35.9" fill="#f4d495"/><rect x="934.8" y="248.9" width="35.2" height="35.9" fill="#f4d189"/><rect x="969.3" y="248.9" width="35.2" height="35.9" fill="#eebb55"/><rect x="1003.9" y="248.9" width="35.2" height="35.9" fill="#e5ae40"/><rect x="1038.5" y="248.9" width="35.2" height="35.9" fill="#d9a035"/><rect x="1073.0" y="248.9" width="35.2" height="35.9" fill="#d1982e"/><rect x="1107.6" y="248.9" width="35.2" height="35.9" fill="#cf972e"/><rect x="1142.2" y="248.9" width="35.2" height="35.9" fill="#d0972e"/><rect x="1176.7" y="248.9" width="35.2" height="35.9" fill="#cd952f"/><rect x="1211.3" y="248.9" width="35.2" height="35.9" fill="#986e23"/><rect x="1245.9" y="248.9" width="35.2" height="35.9" fill="#8b6320"/><rect x="1280.4" y="248.9" width="35.2" height="35.9" fill="#976c24"/><rect x="1315.0" y="248.9" width="35.2" height="35.9" fill="#aa7c2b"/><rect x="1349.6" y="248.9" width="35.2" height="35.9" fill="#c49235"/><rect x="1384.1" y="248.9" width="35.2" height="35.9" fill="#dfa93e"/><rect x="1418.7" y="248.9" width="35.2" height="35.9" fill="#ebb140"/><rect x="1453.3" y="248.9" width="35.2" height="35.9" fill="#ecb13d"/><rect x="1487.8" y="248.9" width="35.2" height="35.9" fill="#e6ab39"/><rect x="1522.4" y="248.9" width="35.2" height="35.9" fill="#dca234"/><rect x="1557.0" y="248.9" width="35.2" height="35.9" fill="#d39b31"/><rect x="1591.5" y="248.9" width="35.2" height="35.9" fill="#ca942d"/><rect x="1626.1" y="248.9" width="35.2" height="35.9" fill="#c6902b"/><rect x="1660.7" y="248.9" width="35.2" height="35.9" fill="#c8912b"/><rect x="1695.2" y="248.9" width="35.2" height="35.9" fill="#cc942c"/><rect x="1729.8" y="248.9" width="35.2" height="35.9" fill="#d1972d"/><rect x="1764.4" y="248.9" width="35.2" height="35.9" fill="#d69b2f"/><rect x="1798.9" y="248.9" width="35.2" height="35.9" fill="#daa032"/><rect x="1833.5" y="248.9" width="35.2" height="35.9" fill="#e1a738"/><rect x="1868.1" y="248.9" width="35.2" height="35.9" fill="#e9b343"/><rect x="1902.6" y="248.9" width="35.2" height="35.9" fill="#f0bd52"/><rect x="1937.2" y="248.9" width="35.2" height="35.9" fill="#f3c569"/><rect x="1971.8" y="248.9" width="35.2" height="35.9" fill="#f4cc7a"/><rect x="2006.3" y="248.9" width="35.2" height="35.9" fill="#f5d187"/><rect x="2040.9" y="248.9" width="35.2" height="35.9" fill="#f5d085"/><rect x="2075.5" y="248.9" width="35.2" height="35.9" fill="#f4c974"/><rect x="2110.0" y="248.9" width="35.2" height="35.9" fill="#f4c362"/><rect x="2144.6" y="248.9" width="35.2" height="35.9" fill="#f3bd4e"/><rect x="2179.2" y="248.9" width="35.2" height="35.9" fill="#f2ba47"/><rect x="2213.7" y="248.9" width="35.2" height="35.9" fill="#f2bb49"/><rect x="2248.3" y="248.9" width="35.2" height="35.9" fill="#f3bc4c"/><rect x="2282.9" y="248.9" width="35.2" height="35.9" fill="#f4be50"/><rect x="2317.4" y="248.9" width="35.2" height="35.9" fill="#f5be51"/><rect x="2352.0" y="248.9" width="35.2" height="35.9" fill="#f5be51"/><rect x="2386.6" y="248.9" width="35.2" height="35.9" fill="#f5be51"/><rect x="208.9" y="284.2" width="35.2" height="35.9" fill="#694a18"/><rect x="243.4" y="284.2" width="35.2" height="35.9" fill="#694a18"/><rect x="278.0" y="284.2" width="35.2" height="35.9" fill="#694a18"/><rect x="312.6" y="284.2" width="35.2" height="35.9" fill="#694918"/><rect x="347.1" y="284.2" width="35.2" height="35.9" fill="#694a18"/><rect x="381.7" y="284.2" width="35.2" height="35.9" fill="#7b571b"/><rect x="416.3" y="284.2" width="35.2" height="35.9" fill="#a17323"/><rect x="450.8" y="284.2" width="35.2" height="35.9" fill="#a57624"/><rect x="485.4" y="284.2" width="35.2" height="35.9" fill="#deb159"/><rect x="520.0" y="284.2" width="35.2" height="35.9" fill="#f3cb7b"/><rect x="554.5" y="284.2" width="35.2" height="35.9" fill="#f4d28d"/><rect x="589.1" y="284.2" width="35.2" height="35.9" fill="#f5daa1"/><rect x="623.7" y="284.2" width="35.2" height="35.9" fill="#f5daa2"/><rect x="658.2" y="284.2" width="35.2" height="35.9" fill="#f5dba3"/><rect x="692.8" y="284.2" width="35.2" height="35.9" fill="#f5dba5"/><rect x="727.4" y="284.2" width="35.2" height="35.9" fill="#f5dca7"/><rect x="761.9" y="284.2" width="35.2" height="35.9" fill="#f6dda8"/><rect x="796.5" y="284.2" width="35.2" height="35.9" fill="#f6dda8"/><rect x="831.1" y="284.2" width="35.2" height="35.9" fill="#f6ddaa"/><rect x="865.6" y="284.2" width="35.2" height="35.9" fill="#f6dda9"/><rect x="900.2" y="284.2" width="35.2" height="35.9" fill="#f5dba5"/><rect x="934.8" y="284.2" width="35.2" height="35.9" fill="#f5d798"/><rect x="969.3" y="284.2" width="35.2" height="35.9" fill="#f1c76f"/><rect x="1003.9" y="284.2" width="35.2" height="35.9" fill="#edba53"/><rect x="1038.5" y="284.2" width="35.2" height="35.9" fill="#e3aa3e"/><rect x="1073.0" y="284.2" width="35.2" height="35.9" fill="#dca132"/><rect x="1107.6" y="284.2" width="35.2" height="35.9" fill="#dba032"/><rect x="1142.2" y="284.2" width="35.2" height="35.9" fill="#d9a033"/><rect x="1176.7" y="284.2" width="35.2" height="35.9" fill="#ce9832"/><rect x="1211.3" y="284.2" width="35.2" height="35.9" fill="#997026"/><rect x="1245.9" y="284.2" width="35.2" height="35.9" fill="#896220"/><rect x="1280.4" y="284.2" width="35.2" height="35.9" fill="#936822"/><rect x="1315.0" y="284.2" width="35.2" height="35.9" fill="#a47626"/><rect x="1349.6" y="284.2" width="35.2" height="35.9" fill="#c18e2e"/><rect x="1384.1" y="284.2" width="35.2" height="35.9" fill="#e0a636"/><rect x="1418.7" y="284.2" width="35.2" height="35.9" fill="#ebaf39"/><rect x="1453.3" y="284.2" width="35.2" height="35.9" fill="#ecaf39"/><rect x="1487.8" y="284.2" width="35.2" height="35.9" fill="#ebaf39"/><rect x="1522.4" y="284.2" width="35.2" height="35.9" fill="#e9ad38"/><rect x="1557.0" y="284.2" width="35.2" height="35.9" fill="#e2a836"/><rect x="1591.5" y="284.2" width="35.2" height="35.9" fill="#d79e32"/><rect x="1626.1" y="284.2" width="35.2" height="35.9" fill="#d0982f"/><rect x="1660.7" y="284.2" width="35.2" height="35.9" fill="#cf972e"/><rect x="1695.2" y="284.2" width="35.2" height="35.9" fill="#d1982e"/><rect x="1729.8" y="284.2" width="35.2" height="35.9" fill="#d69b2f"/><rect x="1764.4" y="284.2" width="35.2" height="35.9" fill="#dba031"/><rect x="1798.9" y="284.2" width="35.2" height="35.9" fill="#e1a535"/><rect x="1833.5" y="284.2" width="35.2" height="35.9" fill="#e7af40"/><rect x="1868.1" y="284.2" width="35.2" height="35.9" fill="#efbc53"/><rect x="1902.6" y="284.2" width="35.2" height="35.9" fill="#f2c566"/><rect x="1937.2" y="284.2" width="35.2" height="35.9" fill="#f3cb78"/><rect x="1971.8" y="284.2" width="35.2" height="35.9" fill="#f4cf84"/><rect x="2006.3" y="284.2" width="35.2" height="35.9" fill="#f4d28a"/><rect x="2040.9" y="284.2" width="35.2" height="35.9" fill="#f4d085"/><rect x="2075.5" y="284.2" width="35.2" height="35.9" fill="#f4c974"/><rect x="2110.0" y="284.2" width="35.2" height="35.9" fill="#f4c362"/><rect x="2144.6" y="284.2" width="35.2" height="35.9" fill="#f3bd50"/><rect x="2179.2" y="284.2" width="35.2" height="35.9" fill="#f2ba49"/><rect x="2213.7" y="284.2" width="35.2" height="35.9" fill="#f2bb4a"/><rect x="2248.3" y="284.2" width="35.2" height="35.9" fill="#f3bb4b"/><rect x="2282.9" y="284.2" width="35.2" height="35.9" fill="#f4bc4c"/><rect x="2317.4" y="284.2" width="35.2" height="35.9" fill="#f5bc4c"/><rect x="2352.0" y="284.2" width="35.2" height="35.9" fill="#f5bc4c"/><rect x="2386.6" y="284.2" width="35.2" height="35.9" fill="#f5bc4c"/><rect x="208.9" y="319.5" width="35.2" height="35.9" fill="#79561c"/><rect x="243.4" y="319.5" width="35.2" height="35.9" fill="#79561c"/><rect x="278.0" y="319.5" width="35.2" height="35.9" fill="#79561c"/><rect x="312.6" y="319.5" width="35.2" height="35.9" fill="#7a571c"/><rect x="347.1" y="319.5" width="35.2" height="35.9" fill="#74521a"/><rect x="381.7" y="319.5" width="35.2" height="35.9" fill="#825c1d"/><rect x="416.3" y="319.5" width="35.2" height="35.9" fill="#b28027"/><rect x="450.8" y="319.5" width="35.2" height="35.9" fill="#bd8b2f"/><rect x="485.4" y="319.5" width="35.2" height="35.9" fill="#e4ba66"/><rect x="520.0" y="319.5" width="35.2" height="35.9" fill="#f3d38d"/><rect x="554.5" y="319.5" width="35.2" height="35.9" fill="#f4d89c"/><rect x="589.1" y="319.5" width="35.2" height="35.9" fill="#f5dda7"/><rect x="623.7" y="319.5" width="35.2" height="35.9" fill="#f6deaa"/><rect x="658.2" y="319.5" width="35.2" height="35.9" fill="#f6dfac"/><rect x="692.8" y="319.5" width="35.2" height="35.9" fill="#f7e2b4"/><rect x="727.4" y="319.5" width="35.2" height="35.9" fill="#f8e5bc"/><rect x="761.9" y="319.5" width="35.2" height="35.9" fill="#f8e7c0"/><rect x="796.5" y="319.5" width="35.2" height="35.9" fill="#f9e8c2"/><rect x="831.1" y="319.5" width="35.2" height="35.9" fill="#f9eac7"/><rect x="865.6" y="319.5" width="35.2" height="35.9" fill="#f9eac7"/><rect x="900.2" y="319.5" width="35.2" height="35.9" fill="#f9e8c4"/><rect x="934.8" y="319.5" width="35.2" height="35.9" fill="#f7e3b7"/><rect x="969.3" y="319.5" width="35.2" height="35.9" fill="#f4d797"/><rect x="1003.9" y="319.5" width="35.2" height="35.9" fill="#f2cb79"/><rect x="1038.5" y="319.5" width="35.2" height="35.9" fill="#eeb84e"/><rect x="1073.0" y="319.5" width="35.2" height="35.9" fill="#ebaf39"/><rect x="1107.6" y="319.5" width="35.2" height="35.9" fill="#ecb13b"/><rect x="1142.2" y="319.5" width="35.2" height="35.9" fill="#e8ae3d"/><rect x="1176.7" y="319.5" width="35.2" height="35.9" fill="#d8a542"/><rect x="1211.3" y="319.5" width="35.2" height="35.9" fill="#b48838"/><rect x="1245.9" y="319.5" width="35.2" height="35.9" fill="#956c26"/><rect x="1280.4" y="319.5" width="35.2" height="35.9" fill="#976c23"/><rect x="1315.0" y="319.5" width="35.2" height="35.9" fill="#ac7c28"/><rect x="1349.6" y="319.5" width="35.2" height="35.9" fill="#c99431"/><rect x="1384.1" y="319.5" width="35.2" height="35.9" fill="#e4aa39"/><rect x="1418.7" y="319.5" width="35.2" height="35.9" fill="#edb23c"/><rect x="1453.3" y="319.5" width="35.2" height="35.9" fill="#edb23c"/><rect x="1487.8" y="319.5" width="35.2" height="35.9" fill="#eeb23c"/><rect x="1522.4" y="319.5" width="35.2" height="35.9" fill="#edb23b"/><rect x="1557.0" y="319.5" width="35.2" height="35.9" fill="#eaaf3a"/><rect x="1591.5" y="319.5" width="35.2" height="35.9" fill="#e3a937"/><rect x="1626.1" y="319.5" width="35.2" height="35.9" fill="#dca334"/><rect x="1660.7" y="319.5" width="35.2" height="35.9" fill="#d69e31"/><rect x="1695.2" y="319.5" width="35.2" height="35.9" fill="#d69d31"/><rect x="1729.8" y="319.5" width="35.2" height="35.9" fill="#dba132"/><rect x="1764.4" y="319.5" width="35.2" height="35.9" fill="#e1a535"/><rect x="1798.9" y="319.5" width="35.2" height="35.9" fill="#e7ac39"/><rect x="1833.5" y="319.5" width="35.2" height="35.9" fill="#edb74b"/><rect x="1868.1" y="319.5" width="35.2" height="35.9" fill="#f1c56d"/><rect x="1902.6" y="319.5" width="35.2" height="35.9" fill="#f3cf86"/><rect x="1937.2" y="319.5" width="35.2" height="35.9" fill="#f4d593"/><rect x="1971.8" y="319.5" width="35.2" height="35.9" fill="#f4d697"/><rect x="2006.3" y="319.5" width="35.2" height="35.9" fill="#f4d594"/><rect x="2040.9" y="319.5" width="35.2" height="35.9" fill="#f4d18a"/><rect x="2075.5" y="319.5" width="35.2" height="35.9" fill="#f4cb79"/><rect x="2110.0" y="319.5" width="35.2" height="35.9" fill="#f4c66a"/><rect x="2144.6" y="319.5" width="35.2" height="35.9" fill="#f4c25c"/><rect x="2179.2" y="319.5" width="35.2" height="35.9" fill="#f4c055"/><rect x="2213.7" y="319.5" width="35.2" height="35.9" fill="#f4bf53"/><rect x="2248.3" y="319.5" width="35.2" height="35.9" fill="#f4be51"/><rect x="2282.9" y="319.5" width="35.2" height="35.9" fill="#f5bd4e"/><rect x="2317.4" y="319.5" width="35.2" height="35.9" fill="#f5bc4c"/><rect x="2352.0" y="319.5" width="35.2" height="35.9" fill="#f5bc4c"/><rect x="2386.6" y="319.5" width="35.2" height="35.9" fill="#f5bc4c"/><rect x="208.9" y="354.8" width="35.2" height="35.9" fill="#7c581c"/><rect x="243.4" y="354.8" width="35.2" height="35.9" fill="#7c581c"/><rect x="278.0" y="354.8" width="35.2" height="35.9" fill="#7c581c"/><rect x="312.6" y="354.8" width="35.2" height="35.9" fill="#7a571c"/><rect x="347.1" y="354.8" width="35.2" height="35.9" fill="#6e4d19"/><rect x="381.7" y="354.8" width="35.2" height="35.9" fill="#78551b"/><rect x="416.3" y="354.8" width="35.2" height="35.9" fill="#cd952e"/><rect x="450.8" y="354.8" width="35.2" height="35.9" fill="#d9a23a"/><rect x="485.4" y="354.8" width="35.2" height="35.9" fill="#efca7f"/><rect x="520.0" y="354.8" width="35.2" height="35.9" fill="#f4d89c"/><rect x="554.5" y="354.8" width="35.2" height="35.9" fill="#f5dba4"/><rect x="589.1" y="354.8" width="35.2" height="35.9" fill="#f5dda7"/><rect x="623.7" y="354.8" width="35.2" height="35.9" fill="#f5dea8"/><rect x="658.2" y="354.8" width="35.2" height="35.9" fill="#f6dfab"/><rect x="692.8" y="354.8" width="35.2" height="35.9" fill="#f8e5ba"/><rect x="727.4" y="354.8" width="35.2" height="35.9" fill="#f9e9c6"/><rect x="761.9" y="354.8" width="35.2" height="35.9" fill="#faeccd"/><rect x="796.5" y="354.8" width="35.2" height="35.9" fill="#fbefd4"/><rect x="831.1" y="354.8" width="35.2" height="35.9" fill="#fbf1da"/><rect x="865.6" y="354.8" width="35.2" height="35.9" fill="#fbf1da"/><rect x="900.2" y="354.8" width="35.2" height="35.9" fill="#fbf0d8"/><rect x="934.8" y="354.8" width="35.2" height="35.9" fill="#faeccd"/><rect x="969.3" y="354.8" width="35.2" height="35.9" fill="#f6dfac"/><rect x="1003.9" y="354.8" width="35.2" height="35.9" fill="#f4d490"/><rect x="1038.5" y="354.8" width="35.2" height="35.9" fill="#f1bd55"/><rect x="1073.0" y="354.8" width="35.2" height="35.9" fill="#efb33d"/><rect x="1107.6" y="354.8" width="35.2" height="35.9" fill="#f1b742"/><rect x="1142.2" y="354.8" width="35.2" height="35.9" fill="#efb94d"/><rect x="1176.7" y="354.8" width="35.2" height="35.9" fill="#e8bd65"/><rect x="1211.3" y="354.8" width="35.2" height="35.9" fill="#d5ac5c"/><rect x="1245.9" y="354.8" width="35.2" height="35.9" fill="#ae8235"/><rect x="1280.4" y="354.8" width="35.2" height="35.9" fill="#a97b2c"/><rect x="1315.0" y="354.8" width="35.2" height="35.9" fill="#bb8a30"/><rect x="1349.6" y="354.8" width="35.2" height="35.9" fill="#d29d39"/><rect x="1384.1" y="354.8" width="35.2" height="35.9" fill="#e7b246"/><rect x="1418.7" y="354.8" width="35.2" height="35.9" fill="#f0bb4c"/><rect x="1453.3" y="354.8" width="35.2" height="35.9" fill="#f2bc4d"/><rect x="1487.8" y="354.8" width="35.2" height="35.9" fill="#f2bc4b"/><rect x="1522.4" y="354.8" width="35.2" height="35.9" fill="#f1b945"/><rect x="1557.0" y="354.8" width="35.2" height="35.9" fill="#eeb53f"/><rect x="1591.5" y="354.8" width="35.2" height="35.9" fill="#e8ae3a"/><rect x="1626.1" y="354.8" width="35.2" height="35.9" fill="#e0a635"/><rect x="1660.7" y="354.8" width="35.2" height="35.9" fill="#d8a032"/><rect x="1695.2" y="354.8" width="35.2" height="35.9" fill="#d69e31"/><rect x="1729.8" y="354.8" width="35.2" height="35.9" fill="#daa032"/><rect x="1764.4" y="354.8" width="35.2" height="35.9" fill="#e0a535"/><rect x="1798.9" y="354.8" width="35.2" height="35.9" fill="#e7ac39"/><rect x="1833.5" y="354.8" width="35.2" height="35.9" fill="#edb64a"/><rect x="1868.1" y="354.8" width="35.2" height="35.9" fill="#f0c46b"/><rect x="1902.6" y="354.8" width="35.2" height="35.9" fill="#f2cd81"/><rect x="1937.2" y="354.8" width="35.2" height="35.9" fill="#f3d18a"/><rect x="1971.8" y="354.8" width="35.2" height="35.9" fill="#f3d18b"/><rect x="2006.3" y="354.8" width="35.2" height="35.9" fill="#f2ce84"/><rect x="2040.9" y="354.8" width="35.2" height="35.9" fill="#f2cb7a"/><rect x="2075.5" y="354.8" width="35.2" height="35.9" fill="#f3c76f"/><rect x="2110.0" y="354.8" width="35.2" height="35.9" fill="#f4c464"/><rect x="2144.6" y="354.8" width="35.2" height="35.9" fill="#f4c25c"/><rect x="2179.2" y="354.8" width="35.2" height="35.9" fill="#f4c056"/><rect x="2213.7" y="354.8" width="35.2" height="35.9" fill="#f4bf53"/><rect x="2248.3" y="354.8" width="35.2" height="35.9" fill="#f4be50"/><rect x="2282.9" y="354.8" width="35.2" height="35.9" fill="#f4bc4c"/><rect x="2317.4" y="354.8" width="35.2" height="35.9" fill="#f4bb4a"/><rect x="2352.0" y="354.8" width="35.2" height="35.9" fill="#f4bb4a"/><rect x="2386.6" y="354.8" width="35.2" height="35.9" fill="#f4bb4a"/><rect x="208.9" y="390.1" width="35.2" height="35.9" fill="#89621e"/><rect x="243.4" y="390.1" width="35.2" height="35.9" fill="#89621e"/><rect x="278.0" y="390.1" width="35.2" height="35.9" fill="#89621e"/><rect x="312.6" y="390.1" width="35.2" height="35.9" fill="#88601e"/><rect x="347.1" y="390.1" width="35.2" height="35.9" fill="#7a561b"/><rect x="381.7" y="390.1" width="35.2" height="35.9" fill="#88611f"/><rect x="416.3" y="390.1" width="35.2" height="35.9" fill="#cf9831"/><rect x="450.8" y="390.1" width="35.2" height="35.9" fill="#dfa943"/><rect x="485.4" y="390.1" width="35.2" height="35.9" fill="#f1cf88"/><rect x="520.0" y="390.1" width="35.2" height="35.9" fill="#f4daa0"/><rect x="554.5" y="390.1" width="35.2" height="35.9" fill="#f5dca5"/><rect x="589.1" y="390.1" width="35.2" height="35.9" fill="#f5dda7"/><rect x="623.7" y="390.1" width="35.2" height="35.9" fill="#f5dea8"/><rect x="658.2" y="390.1" width="35.2" height="35.9" fill="#f6dfab"/><rect x="692.8" y="390.1" width="35.2" height="35.9" fill="#f8e6bd"/><rect x="727.4" y="390.1" width="35.2" height="35.9" fill="#faeaca"/><rect x="761.9" y="390.1" width="35.2" height="35.9" fill="#faedd1"/><rect x="796.5" y="390.1" width="35.2" height="35.9" fill="#fbf2db"/><rect x="831.1" y="390.1" width="35.2" height="35.9" fill="#fcf3e0"/><rect x="865.6" y="390.1" width="35.2" height="35.9" fill="#fcf3e0"/><rect x="900.2" y="390.1" width="35.2" height="35.9" fill="#fcf2df"/><rect x="934.8" y="390.1" width="35.2" height="35.9" fill="#fbefd6"/><rect x="969.3" y="390.1" width="35.2" height="35.9" fill="#f7e2b3"/><rect x="1003.9" y="390.1" width="35.2" height="35.9" fill="#f4d798"/><rect x="1038.5" y="390.1" width="35.2" height="35.9" fill="#f2c05a"/><rect x="1073.0" y="390.1" width="35.2" height="35.9" fill="#f1b641"/><rect x="1107.6" y="390.1" width="35.2" height="35.9" fill="#f2ba49"/><rect x="1142.2" y="390.1" width="35.2" height="35.9" fill="#f2c15e"/><rect x="1176.7" y="390.1" width="35.2" height="35.9" fill="#f2d392"/><rect x="1211.3" y="390.1" width="35.2" height="35.9" fill="#edce8d"/><rect x="1245.9" y="390.1" width="35.2" height="35.9" fill="#d3a752"/><rect x="1280.4" y="390.1" width="35.2" height="35.9" fill="#d0a24a"/><rect x="1315.0" y="390.1" width="35.2" height="35.9" fill="#daa948"/><rect x="1349.6" y="390.1" width="35.2" height="35.9" fill="#e7b654"/><rect x="1384.1" y="390.1" width="35.2" height="35.9" fill="#efc670"/><rect x="1418.7" y="390.1" width="35.2" height="35.9" fill="#f3ce7f"/><rect x="1453.3" y="390.1" width="35.2" height="35.9" fill="#f3cf82"/><rect x="1487.8" y="390.1" width="35.2" height="35.9" fill="#f3cc78"/><rect x="1522.4" y="390.1" width="35.2" height="35.9" fill="#f3c460"/><rect x="1557.0" y="390.1" width="35.2" height="35.9" fill="#efb94b"/><rect x="1591.5" y="390.1" width="35.2" height="35.9" fill="#e6ad3d"/><rect x="1626.1" y="390.1" width="35.2" height="35.9" fill="#dda334"/><rect x="1660.7" y="390.1" width="35.2" height="35.9" fill="#d39c30"/><rect x="1695.2" y="390.1" width="35.2" height="35.9" fill="#d0992f"/><rect x="1729.8" y="390.1" width="35.2" height="35.9" fill="#d39b30"/><rect x="1764.4" y="390.1" width="35.2" height="35.9" fill="#d89f32"/><rect x="1798.9" y="390.1" width="35.2" height="35.9" fill="#e0a535"/><rect x="1833.5" y="390.1" width="35.2" height="35.9" fill="#e7ad3e"/><rect x="1868.1" y="390.1" width="35.2" height="35.9" fill="#edb84d"/><rect x="1902.6" y="390.1" width="35.2" height="35.9" fill="#f1be56"/><rect x="1937.2" y="390.1" width="35.2" height="35.9" fill="#f2c15c"/><rect x="1971.8" y="390.1" width="35.2" height="35.9" fill="#f2c15c"/><rect x="2006.3" y="390.1" width="35.2" height="35.9" fill="#f0bf58"/><rect x="2040.9" y="390.1" width="35.2" height="35.9" fill="#f0bd55"/><rect x="2075.5" y="390.1" width="35.2" height="35.9" fill="#f2bd54"/><rect x="2110.0" y="390.1" width="35.2" height="35.9" fill="#f2bd51"/><rect x="2144.6" y="390.1" width="35.2" height="35.9" fill="#f2bc4e"/><rect x="2179.2" y="390.1" width="35.2" height="35.9" fill="#f2bb4b"/><rect x="2213.7" y="390.1" width="35.2" height="35.9" fill="#f2ba4a"/><rect x="2248.3" y="390.1" width="35.2" height="35.9" fill="#f2b949"/><rect x="2282.9" y="390.1" width="35.2" height="35.9" fill="#f2b947"/><rect x="2317.4" y="390.1" width="35.2" height="35.9" fill="#f2b847"/><rect x="2352.0" y="390.1" width="35.2" height="35.9" fill="#f2b847"/><rect x="2386.6" y="390.1" width="35.2" height="35.9" fill="#f2b847"/><rect x="208.9" y="425.4" width="35.2" height="35.9" fill="#b88529"/><rect x="243.4" y="425.4" width="35.2" height="35.9" fill="#b88529"/><rect x="278.0" y="425.4" width="35.2" height="35.9" fill="#b88529"/><rect x="312.6" y="425.4" width="35.2" height="35.9" fill="#b88529"/><rect x="347.1" y="425.4" width="35.2" height="35.9" fill="#b88629"/><rect x="381.7" y="425.4" width="35.2" height="35.9" fill="#c08d2d"/><rect x="416.3" y="425.4" width="35.2" height="35.9" fill="#dea941"/><rect x="450.8" y="425.4" width="35.2" height="35.9" fill="#efc062"/><rect x="485.4" y="425.4" width="35.2" height="35.9" fill="#f3d28f"/><rect x="520.0" y="425.4" width="35.2" height="35.9" fill="#f4daa1"/><rect x="554.5" y="425.4" width="35.2" height="35.9" fill="#f5dca4"/><rect x="589.1" y="425.4" width="35.2" height="35.9" fill="#f5dca5"/><rect x="623.7" y="425.4" width="35.2" height="35.9" fill="#f5dca5"/><rect x="658.2" y="425.4" width="35.2" height="35.9" fill="#f5dda7"/><rect x="692.8" y="425.4" width="35.2" height="35.9" fill="#f8e5bb"/><rect x="727.4" y="425.4" width="35.2" height="35.9" fill="#faeaca"/><rect x="761.9" y="425.4" width="35.2" height="35.9" fill="#fbeed3"/><rect x="796.5" y="425.4" width="35.2" height="35.9" fill="#fcf3df"/><rect x="831.1" y="425.4" width="35.2" height="35.9" fill="#fcf4e3"/><rect x="865.6" y="425.4" width="35.2" height="35.9" fill="#fcf4e3"/><rect x="900.2" y="425.4" width="35.2" height="35.9" fill="#fcf3e2"/><rect x="934.8" y="425.4" width="35.2" height="35.9" fill="#fbf1db"/><rect x="969.3" y="425.4" width="35.2" height="35.9" fill="#f7e4ba"/><rect x="1003.9" y="425.4" width="35.2" height="35.9" fill="#f4d99f"/><rect x="1038.5" y="425.4" width="35.2" height="35.9" fill="#f3c360"/><rect x="1073.0" y="425.4" width="35.2" height="35.9" fill="#f2b945"/><rect x="1107.6" y="425.4" width="35.2" height="35.9" fill="#f3bb4c"/><rect x="1142.2" y="425.4" width="35.2" height="35.9" fill="#f2c466"/><rect x="1176.7" y="425.4" width="35.2" height="35.9" fill="#f5dda6"/><rect x="1211.3" y="425.4" width="35.2" height="35.9" fill="#f5dca6"/><rect x="1245.9" y="425.4" width="35.2" height="35.9" fill="#e9c171"/><rect x="1280.4" y="425.4" width="35.2" height="35.9" fill="#ebc375"/><rect x="1315.0" y="425.4" width="35.2" height="35.9" fill="#edc573"/><rect x="1349.6" y="425.4" width="35.2" height="35.9" fill="#f2d18a"/><rect x="1384.1" y="425.4" width="35.2" height="35.9" fill="#f6dfac"/><rect x="1418.7" y="425.4" width="35.2" height="35.9" fill="#f8e5ba"/><rect x="1453.3" y="425.4" width="35.2" height="35.9" fill="#f8e5ba"/><rect x="1487.8" y="425.4" width="35.2" height="35.9" fill="#f6e0ad"/><rect x="1522.4" y="425.4" width="35.2" height="35.9" fill="#f4d38b"/><rect x="1557.0" y="425.4" width="35.2" height="35.9" fill="#f1c264"/><rect x="1591.5" y="425.4" width="35.2" height="35.9" fill="#e8b046"/><rect x="1626.1" y="425.4" width="35.2" height="35.9" fill="#dca335"/><rect x="1660.7" y="425.4" width="35.2" height="35.9" fill="#d09a30"/><rect x="1695.2" y="425.4" width="35.2" height="35.9" fill="#ca952d"/><rect x="1729.8" y="425.4" width="35.2" height="35.9" fill="#cb952d"/><rect x="1764.4" y="425.4" width="35.2" height="35.9" fill="#ce972e"/><rect x="1798.9" y="425.4" width="35.2" height="35.9" fill="#d39b30"/><rect x="1833.5" y="425.4" width="35.2" height="35.9" fill="#daa134"/><rect x="1868.1" y="425.4" width="35.2" height="35.9" fill="#e2aa3a"/><rect x="1902.6" y="425.4" width="35.2" height="35.9" fill="#e7af3e"/><rect x="1937.2" y="425.4" width="35.2" height="35.9" fill="#e9b140"/><rect x="1971.8" y="425.4" width="35.2" height="35.9" fill="#eab241"/><rect x="2006.3" y="425.4" width="35.2" height="35.9" fill="#e8b03f"/><rect x="2040.9" y="425.4" width="35.2" height="35.9" fill="#e8b03f"/><rect x="2075.5" y="425.4" width="35.2" height="35.9" fill="#e9b141"/><rect x="2110.0" y="425.4" width="35.2" height="35.9" fill="#e9b142"/><rect x="2144.6" y="425.4" width="35.2" height="35.9" fill="#e9b141"/><rect x="2179.2" y="425.4" width="35.2" height="35.9" fill="#e9b141"/><rect x="2213.7" y="425.4" width="35.2" height="35.9" fill="#eab140"/><rect x="2248.3" y="425.4" width="35.2" height="35.9" fill="#ebb140"/><rect x="2282.9" y="425.4" width="35.2" height="35.9" fill="#ecb241"/><rect x="2317.4" y="425.4" width="35.2" height="35.9" fill="#edb241"/><rect x="2352.0" y="425.4" width="35.2" height="35.9" fill="#edb241"/><rect x="2386.6" y="425.4" width="35.2" height="35.9" fill="#edb241"/><rect x="208.9" y="460.8" width="35.2" height="35.9" fill="#d29a31"/><rect x="243.4" y="460.8" width="35.2" height="35.9" fill="#d29a31"/><rect x="278.0" y="460.8" width="35.2" height="35.9" fill="#d29a31"/><rect x="312.6" y="460.8" width="35.2" height="35.9" fill="#d49c32"/><rect x="347.1" y="460.8" width="35.2" height="35.9" fill="#d69f34"/><rect x="381.7" y="460.8" width="35.2" height="35.9" fill="#dea63c"/><rect x="416.3" y="460.8" width="35.2" height="35.9" fill="#ecb74d"/><rect x="450.8" y="460.8" width="35.2" height="35.9" fill="#f2c466"/><rect x="485.4" y="460.8" width="35.2" height="35.9" fill="#f3d18a"/><rect x="520.0" y="460.8" width="35.2" height="35.9" fill="#f4d79a"/><rect x="554.5" y="460.8" width="35.2" height="35.9" fill="#f4d89a"/><rect x="589.1" y="460.8" width="35.2" height="35.9" fill="#f4d696"/><rect x="623.7" y="460.8" width="35.2" height="35.9" fill="#f3d593"/><rect x="658.2" y="460.8" width="35.2" height="35.9" fill="#f3d697"/><rect x="692.8" y="460.8" width="35.2" height="35.9" fill="#f6e2b4"/><rect x="727.4" y="460.8" width="35.2" height="35.9" fill="#f9eaca"/><rect x="761.9" y="460.8" width="35.2" height="35.9" fill="#fbeed5"/><rect x="796.5" y="460.8" width="35.2" height="35.9" fill="#fcf4e3"/><rect x="831.1" y="460.8" width="35.2" height="35.9" fill="#fcf5e5"/><rect x="865.6" y="460.8" width="35.2" height="35.9" fill="#fcf5e5"/><rect x="900.2" y="460.8" width="35.2" height="35.9" fill="#fcf4e4"/><rect x="934.8" y="460.8" width="35.2" height="35.9" fill="#fcf3e0"/><rect x="969.3" y="460.8" width="35.2" height="35.9" fill="#f8e7c2"/><rect x="1003.9" y="460.8" width="35.2" height="35.9" fill="#f5dca7"/><rect x="1038.5" y="460.8" width="35.2" height="35.9" fill="#f3c668"/><rect x="1073.0" y="460.8" width="35.2" height="35.9" fill="#f3bb4a"/><rect x="1107.6" y="460.8" width="35.2" height="35.9" fill="#f3bc4e"/><rect x="1142.2" y="460.8" width="35.2" height="35.9" fill="#f2c261"/><rect x="1176.7" y="460.8" width="35.2" height="35.9" fill="#f5dda6"/><rect x="1211.3" y="460.8" width="35.2" height="35.9" fill="#f6dfab"/><rect x="1245.9" y="460.8" width="35.2" height="35.9" fill="#efc97d"/><rect x="1280.4" y="460.8" width="35.2" height="35.9" fill="#efcb83"/><rect x="1315.0" y="460.8" width="35.2" height="35.9" fill="#f1ce86"/><rect x="1349.6" y="460.8" width="35.2" height="35.9" fill="#f4daa1"/><rect x="1384.1" y="460.8" width="35.2" height="35.9" fill="#f8e6bc"/><rect x="1418.7" y="460.8" width="35.2" height="35.9" fill="#f9eac5"/><rect x="1453.3" y="460.8" width="35.2" height="35.9" fill="#faeac5"/><rect x="1487.8" y="460.8" width="35.2" height="35.9" fill="#f8e6bc"/><rect x="1522.4" y="460.8" width="35.2" height="35.9" fill="#f5d99d"/><rect x="1557.0" y="460.8" width="35.2" height="35.9" fill="#f1c772"/><rect x="1591.5" y="460.8" width="35.2" height="35.9" fill="#eab34b"/><rect x="1626.1" y="460.8" width="35.2" height="35.9" fill="#dea336"/><rect x="1660.7" y="460.8" width="35.2" height="35.9" fill="#cf982f"/><rect x="1695.2" y="460.8" width="35.2" height="35.9" fill="#c6912c"/><rect x="1729.8" y="460.8" width="35.2" height="35.9" fill="#c38f2a"/><rect x="1764.4" y="460.8" width="35.2" height="35.9" fill="#c18d2a"/><rect x="1798.9" y="460.8" width="35.2" height="35.9" fill="#c18d2a"/><rect x="1833.5" y="460.8" width="35.2" height="35.9" fill="#c7912c"/><rect x="1868.1" y="460.8" width="35.2" height="35.9" fill="#d29b31"/><rect x="1902.6" y="460.8" width="35.2" height="35.9" fill="#d9a134"/><rect x="1937.2" y="460.8" width="35.2" height="35.9" fill="#dba336"/><rect x="1971.8" y="460.8" width="35.2" height="35.9" fill="#dca436"/><rect x="2006.3" y="460.8" width="35.2" height="35.9" fill="#dca436"/><rect x="2040.9" y="460.8" width="35.2" height="35.9" fill="#dba335"/><rect x="2075.5" y="460.8" width="35.2" height="35.9" fill="#d9a135"/><rect x="2110.0" y="460.8" width="35.2" height="35.9" fill="#d9a135"/><rect x="2144.6" y="460.8" width="35.2" height="35.9" fill="#d9a135"/><rect x="2179.2" y="460.8" width="35.2" height="35.9" fill="#daa235"/><rect x="2213.7" y="460.8" width="35.2" height="35.9" fill="#dca336"/><rect x="2248.3" y="460.8" width="35.2" height="35.9" fill="#dfa537"/><rect x="2282.9" y="460.8" width="35.2" height="35.9" fill="#e3a838"/><rect x="2317.4" y="460.8" width="35.2" height="35.9" fill="#e4a939"/><rect x="2352.0" y="460.8" width="35.2" height="35.9" fill="#e4a939"/><rect x="2386.6" y="460.8" width="35.2" height="35.9" fill="#e4a939"/><rect x="208.9" y="496.1" width="35.2" height="35.9" fill="#ebb03b"/><rect x="243.4" y="496.1" width="35.2" height="35.9" fill="#ebb03b"/><rect x="278.0" y="496.1" width="35.2" height="35.9" fill="#ebb03b"/><rect x="312.6" y="496.1" width="35.2" height="35.9" fill="#edb23d"/><rect x="347.1" y="496.1" width="35.2" height="35.9" fill="#eeb43f"/><rect x="381.7" y="496.1" width="35.2" height="35.9" fill="#efb643"/><rect x="416.3" y="496.1" width="35.2" height="35.9" fill="#f1ba4a"/><rect x="450.8" y="496.1" width="35.2" height="35.9" fill="#f2c05a"/><rect x="485.4" y="496.1" width="35.2" height="35.9" fill="#f2cb7a"/><rect x="520.0" y="496.1" width="35.2" height="35.9" fill="#f3d18a"/><rect x="554.5" y="496.1" width="35.2" height="35.9" fill="#f2cd7c"/><rect x="589.1" y="496.1" width="35.2" height="35.9" fill="#f2c76d"/><rect x="623.7" y="496.1" width="35.2" height="35.9" fill="#f2c567"/><rect x="658.2" y="496.1" width="35.2" height="35.9" fill="#f2c974"/><rect x="692.8" y="496.1" width="35.2" height="35.9" fill="#f4dca6"/><rect x="727.4" y="496.1" width="35.2" height="35.9" fill="#f9e9c7"/><rect x="761.9" y="496.1" width="35.2" height="35.9" fill="#fbeed5"/><rect x="796.5" y="496.1" width="35.2" height="35.9" fill="#fcf5e5"/><rect x="831.1" y="496.1" width="35.2" height="35.9" fill="#fcf5e6"/><rect x="865.6" y="496.1" width="35.2" height="35.9" fill="#fcf5e6"/><rect x="900.2" y="496.1" width="35.2" height="35.9" fill="#fcf4e5"/><rect x="934.8" y="496.1" width="35.2" height="35.9" fill="#fcf4e3"/><rect x="969.3" y="496.1" width="35.2" height="35.9" fill="#f9eac9"/><rect x="1003.9" y="496.1" width="35.2" height="35.9" fill="#f6dfad"/><rect x="1038.5" y="496.1" width="35.2" height="35.9" fill="#f3c76c"/><rect x="1073.0" y="496.1" width="35.2" height="35.9" fill="#f3bb49"/><rect x="1107.6" y="496.1" width="35.2" height="35.9" fill="#f2bb4c"/><rect x="1142.2" y="496.1" width="35.2" height="35.9" fill="#f2bf57"/><rect x="1176.7" y="496.1" width="35.2" height="35.9" fill="#f4d799"/><rect x="1211.3" y="496.1" width="35.2" height="35.9" fill="#f4daa0"/><rect x="1245.9" y="496.1" width="35.2" height="35.9" fill="#efc56f"/><rect x="1280.4" y="496.1" width="35.2" height="35.9" fill="#efc26a"/><rect x="1315.0" y="496.1" width="35.2" height="35.9" fill="#f1c873"/><rect x="1349.6" y="496.1" width="35.2" height="35.9" fill="#f3d28a"/><rect x="1384.1" y="496.1" width="35.2" height="35.9" fill="#f5dca5"/><rect x="1418.7" y="496.1" width="35.2" height="35.9" fill="#f6e1b1"/><rect x="1453.3" y="496.1" width="35.2" height="35.9" fill="#f6e2b2"/><rect x="1487.8" y="496.1" width="35.2" height="35.9" fill="#f5dba4"/><rect x="1522.4" y="496.1" width="35.2" height="35.9" fill="#f3ce82"/><rect x="1557.0" y="496.1" width="35.2" height="35.9" fill="#f1c060"/><rect x="1591.5" y="496.1" width="35.2" height="35.9" fill="#ecb245"/><rect x="1626.1" y="496.1" width="35.2" height="35.9" fill="#e1a635"/><rect x="1660.7" y="496.1" width="35.2" height="35.9" fill="#d49b30"/><rect x="1695.2" y="496.1" width="35.2" height="35.9" fill="#ca942d"/><rect x="1729.8" y="496.1" width="35.2" height="35.9" fill="#c5902b"/><rect x="1764.4" y="496.1" width="35.2" height="35.9" fill="#c18e2a"/><rect x="1798.9" y="496.1" width="35.2" height="35.9" fill="#bf8c29"/><rect x="1833.5" y="496.1" width="35.2" height="35.9" fill="#c38f2a"/><rect x="1868.1" y="496.1" width="35.2" height="35.9" fill="#cd962e"/><rect x="1902.6" y="496.1" width="35.2" height="35.9" fill="#d39b2f"/><rect x="1937.2" y="496.1" width="35.2" height="35.9" fill="#d49c30"/><rect x="1971.8" y="496.1" width="35.2" height="35.9" fill="#d59d30"/><rect x="2006.3" y="496.1" width="35.2" height="35.9" fill="#d59d30"/><rect x="2040.9" y="496.1" width="35.2" height="35.9" fill="#d49c30"/><rect x="2075.5" y="496.1" width="35.2" height="35.9" fill="#d29a2f"/><rect x="2110.0" y="496.1" width="35.2" height="35.9" fill="#d1992e"/><rect x="2144.6" y="496.1" width="35.2" height="35.9" fill="#d1992e"/><rect x="2179.2" y="496.1" width="35.2" height="35.9" fill="#d29b2f"/><rect x="2213.7" y="496.1" width="35.2" height="35.9" fill="#d69d31"/><rect x="2248.3" y="496.1" width="35.2" height="35.9" fill="#d9a032"/><rect x="2282.9" y="496.1" width="35.2" height="35.9" fill="#dea334"/><rect x="2317.4" y="496.1" width="35.2" height="35.9" fill="#e0a535"/><rect x="2352.0" y="496.1" width="35.2" height="35.9" fill="#e0a535"/><rect x="2386.6" y="496.1" width="35.2" height="35.9" fill="#e0a535"/><rect x="208.9" y="531.4" width="35.2" height="35.9" fill="#eeb43e"/><rect x="243.4" y="531.4" width="35.2" height="35.9" fill="#eeb43e"/><rect x="278.0" y="531.4" width="35.2" height="35.9" fill="#eeb43e"/><rect x="312.6" y="531.4" width="35.2" height="35.9" fill="#efb53f"/><rect x="347.1" y="531.4" width="35.2" height="35.9" fill="#efb641"/><rect x="381.7" y="531.4" width="35.2" height="35.9" fill="#f0b844"/><rect x="416.3" y="531.4" width="35.2" height="35.9" fill="#f1ba49"/><rect x="450.8" y="531.4" width="35.2" height="35.9" fill="#f2c059"/><rect x="485.4" y="531.4" width="35.2" height="35.9" fill="#f2ca78"/><rect x="520.0" y="531.4" width="35.2" height="35.9" fill="#f2ce81"/><rect x="554.5" y="531.4" width="35.2" height="35.9" fill="#f2c66b"/><rect x="589.1" y="531.4" width="35.2" height="35.9" fill="#f3c15b"/><rect x="623.7" y="531.4" width="35.2" height="35.9" fill="#f3bf57"/><rect x="658.2" y="531.4" width="35.2" height="35.9" fill="#f2c363"/><rect x="692.8" y="531.4" width="35.2" height="35.9" fill="#f4d79c"/><rect x="727.4" y="531.4" width="35.2" height="35.9" fill="#f9e7c4"/><rect x="761.9" y="531.4" width="35.2" height="35.9" fill="#fbeed4"/><rect x="796.5" y="531.4" width="35.2" height="35.9" fill="#fcf5e6"/><rect x="831.1" y="531.4" width="35.2" height="35.9" fill="#fdf6e7"/><rect x="865.6" y="531.4" width="35.2" height="35.9" fill="#fcf5e7"/><rect x="900.2" y="531.4" width="35.2" height="35.9" fill="#fcf4e5"/><rect x="934.8" y="531.4" width="35.2" height="35.9" fill="#fcf4e3"/><rect x="969.3" y="531.4" width="35.2" height="35.9" fill="#faecce"/><rect x="1003.9" y="531.4" width="35.2" height="35.9" fill="#f6e0b1"/><rect x="1038.5" y="531.4" width="35.2" height="35.9" fill="#f3c66b"/><rect x="1073.0" y="531.4" width="35.2" height="35.9" fill="#f2b844"/><rect x="1107.6" y="531.4" width="35.2" height="35.9" fill="#f1b845"/><rect x="1142.2" y="531.4" width="35.2" height="35.9" fill="#f1ba4b"/><rect x="1176.7" y="531.4" width="35.2" height="35.9" fill="#f1c66f"/><rect x="1211.3" y="531.4" width="35.2" height="35.9" fill="#f0c670"/><rect x="1245.9" y="531.4" width="35.2" height="35.9" fill="#ecb64e"/><rect x="1280.4" y="531.4" width="35.2" height="35.9" fill="#ebb448"/><rect x="1315.0" y="531.4" width="35.2" height="35.9" fill="#f0bb50"/><rect x="1349.6" y="531.4" width="35.2" height="35.9" fill="#f2c15b"/><rect x="1384.1" y="531.4" width="35.2" height="35.9" fill="#f2c669"/><rect x="1418.7" y="531.4" width="35.2" height="35.9" fill="#f2c86e"/><rect x="1453.3" y="531.4" width="35.2" height="35.9" fill="#f1c569"/><rect x="1487.8" y="531.4" width="35.2" height="35.9" fill="#f1c15f"/><rect x="1522.4" y="531.4" width="35.2" height="35.9" fill="#f1bc51"/><rect x="1557.0" y="531.4" width="35.2" height="35.9" fill="#efb646"/><rect x="1591.5" y="531.4" width="35.2" height="35.9" fill="#eeb23d"/><rect x="1626.1" y="531.4" width="35.2" height="35.9" fill="#e8ac37"/><rect x="1660.7" y="531.4" width="35.2" height="35.9" fill="#dfa434"/><rect x="1695.2" y="531.4" width="35.2" height="35.9" fill="#d79e32"/><rect x="1729.8" y="531.4" width="35.2" height="35.9" fill="#d29b30"/><rect x="1764.4" y="531.4" width="35.2" height="35.9" fill="#cf992f"/><rect x="1798.9" y="531.4" width="35.2" height="35.9" fill="#ce982f"/><rect x="1833.5" y="531.4" width="35.2" height="35.9" fill="#d0992f"/><rect x="1868.1" y="531.4" width="35.2" height="35.9" fill="#d39b30"/><rect x="1902.6" y="531.4" width="35.2" height="35.9" fill="#d49c30"/><rect x="1937.2" y="531.4" width="35.2" height="35.9" fill="#d39b2f"/><rect x="1971.8" y="531.4" width="35.2" height="35.9" fill="#d29a2f"/><rect x="2006.3" y="531.4" width="35.2" height="35.9" fill="#d29a2f"/><rect x="2040.9" y="531.4" width="35.2" height="35.9" fill="#d29a2f"/><rect x="2075.5" y="531.4" width="35.2" height="35.9" fill="#d1992e"/><rect x="2110.0" y="531.4" width="35.2" height="35.9" fill="#d1992e"/><rect x="2144.6" y="531.4" width="35.2" height="35.9" fill="#d19a2f"/><rect x="2179.2" y="531.4" width="35.2" height="35.9" fill="#d39c30"/><rect x="2213.7" y="531.4" width="35.2" height="35.9" fill="#d79f32"/><rect x="2248.3" y="531.4" width="35.2" height="35.9" fill="#dba133"/><rect x="2282.9" y="531.4" width="35.2" height="35.9" fill="#dfa434"/><rect x="2317.4" y="531.4" width="35.2" height="35.9" fill="#e0a535"/><rect x="2352.0" y="531.4" width="35.2" height="35.9" fill="#e0a535"/><rect x="2386.6" y="531.4" width="35.2" height="35.9" fill="#e0a535"/><rect x="208.9" y="566.7" width="35.2" height="35.9" fill="#efb540"/><rect x="243.4" y="566.7" width="35.2" height="35.9" fill="#efb540"/><rect x="278.0" y="566.7" width="35.2" height="35.9" fill="#efb540"/><rect x="312.6" y="566.7" width="35.2" height="35.9" fill="#efb640"/><rect x="347.1" y="566.7" width="35.2" height="35.9" fill="#f0b742"/><rect x="381.7" y="566.7" width="35.2" height="35.9" fill="#f0b845"/><rect x="416.3" y="566.7" width="35.2" height="35.9" fill="#f1bb4b"/><rect x="450.8" y="566.7" width="35.2" height="35.9" fill="#f2c15b"/><rect x="485.4" y="566.7" width="35.2" height="35.9" fill="#f2cb79"/><rect x="520.0" y="566.7" width="35.2" height="35.9" fill="#f2ce83"/><rect x="554.5" y="566.7" width="35.2" height="35.9" fill="#f2c76e"/><rect x="589.1" y="566.7" width="35.2" height="35.9" fill="#f2c15e"/><rect x="623.7" y="566.7" width="35.2" height="35.9" fill="#f1be58"/><rect x="658.2" y="566.7" width="35.2" height="35.9" fill="#f1c366"/><rect x="692.8" y="566.7" width="35.2" height="35.9" fill="#f4d9a1"/><rect x="727.4" y="566.7" width="35.2" height="35.9" fill="#f9e8c4"/><rect x="761.9" y="566.7" width="35.2" height="35.9" fill="#fbeed4"/><rect x="796.5" y="566.7" width="35.2" height="35.9" fill="#fdf5e6"/><rect x="831.1" y="566.7" width="35.2" height="35.9" fill="#fdf6e9"/><rect x="865.6" y="566.7" width="35.2" height="35.9" fill="#fdf6e7"/><rect x="900.2" y="566.7" width="35.2" height="35.9" fill="#fcf4e3"/><rect x="934.8" y="566.7" width="35.2" height="35.9" fill="#fbf2df"/><rect x="969.3" y="566.7" width="35.2" height="35.9" fill="#faecd0"/><rect x="1003.9" y="566.7" width="35.2" height="35.9" fill="#f5dfaf"/><rect x="1038.5" y="566.7" width="35.2" height="35.9" fill="#f2c467"/><rect x="1073.0" y="566.7" width="35.2" height="35.9" fill="#f1b742"/><rect x="1107.6" y="566.7" width="35.2" height="35.9" fill="#f0b641"/><rect x="1142.2" y="566.7" width="35.2" height="35.9" fill="#efb541"/><rect x="1176.7" y="566.7" width="35.2" height="35.9" fill="#eeb646"/><rect x="1211.3" y="566.7" width="35.2" height="35.9" fill="#edb444"/><rect x="1245.9" y="566.7" width="35.2" height="35.9" fill="#ebb03d"/><rect x="1280.4" y="566.7" width="35.2" height="35.9" fill="#ebb03c"/><rect x="1315.0" y="566.7" width="35.2" height="35.9" fill="#eeb33f"/><rect x="1349.6" y="566.7" width="35.2" height="35.9" fill="#efb642"/><rect x="1384.1" y="566.7" width="35.2" height="35.9" fill="#f0b846"/><rect x="1418.7" y="566.7" width="35.2" height="35.9" fill="#f0b847"/><rect x="1453.3" y="566.7" width="35.2" height="35.9" fill="#efb643"/><rect x="1487.8" y="566.7" width="35.2" height="35.9" fill="#eeb440"/><rect x="1522.4" y="566.7" width="35.2" height="35.9" fill="#eeb33e"/><rect x="1557.0" y="566.7" width="35.2" height="35.9" fill="#eeb23c"/><rect x="1591.5" y="566.7" width="35.2" height="35.9" fill="#efb23b"/><rect x="1626.1" y="566.7" width="35.2" height="35.9" fill="#ecaf39"/><rect x="1660.7" y="566.7" width="35.2" height="35.9" fill="#e5a937"/><rect x="1695.2" y="566.7" width="35.2" height="35.9" fill="#dfa435"/><rect x="1729.8" y="566.7" width="35.2" height="35.9" fill="#d9a033"/><rect x="1764.4" y="566.7" width="35.2" height="35.9" fill="#d79e32"/><rect x="1798.9" y="566.7" width="35.2" height="35.9" fill="#d69e31"/><rect x="1833.5" y="566.7" width="35.2" height="35.9" fill="#d69e31"/><rect x="1868.1" y="566.7" width="35.2" height="35.9" fill="#d69e31"/><rect x="1902.6" y="566.7" width="35.2" height="35.9" fill="#d59d31"/><rect x="1937.2" y="566.7" width="35.2" height="35.9" fill="#d29a2f"/><rect x="1971.8" y="566.7" width="35.2" height="35.9" fill="#d1992e"/><rect x="2006.3" y="566.7" width="35.2" height="35.9" fill="#d1992e"/><rect x="2040.9" y="566.7" width="35.2" height="35.9" fill="#d1992e"/><rect x="2075.5" y="566.7" width="35.2" height="35.9" fill="#d1992e"/><rect x="2110.0" y="566.7" width="35.2" height="35.9" fill="#d1992f"/><rect x="2144.6" y="566.7" width="35.2" height="35.9" fill="#d19a2f"/><rect x="2179.2" y="566.7" width="35.2" height="35.9" fill="#d39c30"/><rect x="2213.7" y="566.7" width="35.2" height="35.9" fill="#d89f32"/><rect x="2248.3" y="566.7" width="35.2" height="35.9" fill="#dca233"/><rect x="2282.9" y="566.7" width="35.2" height="35.9" fill="#dfa434"/><rect x="2317.4" y="566.7" width="35.2" height="35.9" fill="#e0a535"/><rect x="2352.0" y="566.7" width="35.2" height="35.9" fill="#e0a535"/><rect x="2386.6" y="566.7" width="35.2" height="35.9" fill="#e0a535"/><rect x="208.9" y="602.0" width="35.2" height="35.9" fill="#efb540"/><rect x="243.4" y="602.0" width="35.2" height="35.9" fill="#efb540"/><rect x="278.0" y="602.0" width="35.2" height="35.9" fill="#efb540"/><rect x="312.6" y="602.0" width="35.2" height="35.9" fill="#efb640"/><rect x="347.1" y="602.0" width="35.2" height="35.9" fill="#f0b742"/><rect x="381.7" y="602.0" width="35.2" height="35.9" fill="#f0b845"/><rect x="416.3" y="602.0" width="35.2" height="35.9" fill="#f1bb4b"/><rect x="450.8" y="602.0" width="35.2" height="35.9" fill="#f2c15b"/><rect x="485.4" y="602.0" width="35.2" height="35.9" fill="#f2cb79"/><rect x="520.0" y="602.0" width="35.2" height="35.9" fill="#f2ce83"/><rect x="554.5" y="602.0" width="35.2" height="35.9" fill="#f2c76e"/><rect x="589.1" y="602.0" width="35.2" height="35.9" fill="#f2c15e"/><rect x="623.7" y="602.0" width="35.2" height="35.9" fill="#f1be58"/><rect x="658.2" y="602.0" width="35.2" height="35.9" fill="#f1c366"/><rect x="692.8" y="602.0" width="35.2" height="35.9" fill="#f4d9a1"/><rect x="727.4" y="602.0" width="35.2" height="35.9" fill="#f9e8c4"/><rect x="761.9" y="602.0" width="35.2" height="35.9" fill="#fbeed4"/><rect x="796.5" y="602.0" width="35.2" height="35.9" fill="#fdf5e6"/><rect x="831.1" y="602.0" width="35.2" height="35.9" fill="#fdf6e9"/><rect x="865.6" y="602.0" width="35.2" height="35.9" fill="#fdf6e7"/><rect x="900.2" y="602.0" width="35.2" height="35.9" fill="#fcf4e3"/><rect x="934.8" y="602.0" width="35.2" height="35.9" fill="#fbf2df"/><rect x="969.3" y="602.0" width="35.2" height="35.9" fill="#faecd0"/><rect x="1003.9" y="602.0" width="35.2" height="35.9" fill="#f5dfaf"/><rect x="1038.5" y="602.0" width="35.2" height="35.9" fill="#f2c467"/><rect x="1073.0" y="602.0" width="35.2" height="35.9" fill="#f1b742"/><rect x="1107.6" y="602.0" width="35.2" height="35.9" fill="#f0b641"/><rect x="1142.2" y="602.0" width="35.2" height="35.9" fill="#efb541"/><rect x="1176.7" y="602.0" width="35.2" height="35.9" fill="#eeb646"/><rect x="1211.3" y="602.0" width="35.2" height="35.9" fill="#edb444"/><rect x="1245.9" y="602.0" width="35.2" height="35.9" fill="#ebb03d"/><rect x="1280.4" y="602.0" width="35.2" height="35.9" fill="#ebb03c"/><rect x="1315.0" y="602.0" width="35.2" height="35.9" fill="#eeb33f"/><rect x="1349.6" y="602.0" width="35.2" height="35.9" fill="#efb642"/><rect x="1384.1" y="602.0" width="35.2" height="35.9" fill="#f0b846"/><rect x="1418.7" y="602.0" width="35.2" height="35.9" fill="#f0b847"/><rect x="1453.3" y="602.0" width="35.2" height="35.9" fill="#efb643"/><rect x="1487.8" y="602.0" width="35.2" height="35.9" fill="#eeb440"/><rect x="1522.4" y="602.0" width="35.2" height="35.9" fill="#eeb33e"/><rect x="1557.0" y="602.0" width="35.2" height="35.9" fill="#eeb23c"/><rect x="1591.5" y="602.0" width="35.2" height="35.9" fill="#efb23b"/><rect x="1626.1" y="602.0" width="35.2" height="35.9" fill="#ecaf39"/><rect x="1660.7" y="602.0" width="35.2" height="35.9" fill="#e5a937"/><rect x="1695.2" y="602.0" width="35.2" height="35.9" fill="#dfa435"/><rect x="1729.8" y="602.0" width="35.2" height="35.9" fill="#d9a033"/><rect x="1764.4" y="602.0" width="35.2" height="35.9" fill="#d79e32"/><rect x="1798.9" y="602.0" width="35.2" height="35.9" fill="#d69e31"/><rect x="1833.5" y="602.0" width="35.2" height="35.9" fill="#d69e31"/><rect x="1868.1" y="602.0" width="35.2" height="35.9" fill="#d69e31"/><rect x="1902.6" y="602.0" width="35.2" height="35.9" fill="#d59d31"/><rect x="1937.2" y="602.0" width="35.2" height="35.9" fill="#d29a2f"/><rect x="1971.8" y="602.0" width="35.2" height="35.9" fill="#d1992e"/><rect x="2006.3" y="602.0" width="35.2" height="35.9" fill="#d1992e"/><rect x="2040.9" y="602.0" width="35.2" height="35.9" fill="#d1992e"/><rect x="2075.5" y="602.0" width="35.2" height="35.9" fill="#d1992e"/><rect x="2110.0" y="602.0" width="35.2" height="35.9" fill="#d1992f"/><rect x="2144.6" y="602.0" width="35.2" height="35.9" fill="#d19a2f"/><rect x="2179.2" y="602.0" width="35.2" height="35.9" fill="#d39c30"/><rect x="2213.7" y="602.0" width="35.2" height="35.9" fill="#d89f32"/><rect x="2248.3" y="602.0" width="35.2" height="35.9" fill="#dca233"/><rect x="2282.9" y="602.0" width="35.2" height="35.9" fill="#dfa434"/><rect x="2317.4" y="602.0" width="35.2" height="35.9" fill="#e0a535"/><rect x="2352.0" y="602.0" width="35.2" height="35.9" fill="#e0a535"/><rect x="2386.6" y="602.0" width="35.2" height="35.9" fill="#e0a535"/><rect x="208.9" y="637.3" width="35.2" height="35.9" fill="#efb540"/><rect x="243.4" y="637.3" width="35.2" height="35.9" fill="#efb540"/><rect x="278.0" y="637.3" width="35.2" height="35.9" fill="#efb540"/><rect x="312.6" y="637.3" width="35.2" height="35.9" fill="#efb640"/><rect x="347.1" y="637.3" width="35.2" height="35.9" fill="#f0b742"/><rect x="381.7" y="637.3" width="35.2" height="35.9" fill="#f0b845"/><rect x="416.3" y="637.3" width="35.2" height="35.9" fill="#f1bb4b"/><rect x="450.8" y="637.3" width="35.2" height="35.9" fill="#f2c15b"/><rect x="485.4" y="637.3" width="35.2" height="35.9" fill="#f2cb79"/><rect x="520.0" y="637.3" width="35.2" height="35.9" fill="#f2ce83"/><rect x="554.5" y="637.3" width="35.2" height="35.9" fill="#f2c76e"/><rect x="589.1" y="637.3" width="35.2" height="35.9" fill="#f2c15e"/><rect x="623.7" y="637.3" width="35.2" height="35.9" fill="#f1be58"/><rect x="658.2" y="637.3" width="35.2" height="35.9" fill="#f1c366"/><rect x="692.8" y="637.3" width="35.2" height="35.9" fill="#f4d9a1"/><rect x="727.4" y="637.3" width="35.2" height="35.9" fill="#f9e8c4"/><rect x="761.9" y="637.3" width="35.2" height="35.9" fill="#fbeed4"/><rect x="796.5" y="637.3" width="35.2" height="35.9" fill="#fdf5e6"/><rect x="831.1" y="637.3" width="35.2" height="35.9" fill="#fdf6e9"/><rect x="865.6" y="637.3" width="35.2" height="35.9" fill="#fdf6e7"/><rect x="900.2" y="637.3" width="35.2" height="35.9" fill="#fcf4e3"/><rect x="934.8" y="637.3" width="35.2" height="35.9" fill="#fbf2df"/><rect x="969.3" y="637.3" width="35.2" height="35.9" fill="#faecd0"/><rect x="1003.9" y="637.3" width="35.2" height="35.9" fill="#f5dfaf"/><rect x="1038.5" y="637.3" width="35.2" height="35.9" fill="#f2c467"/><rect x="1073.0" y="637.3" width="35.2" height="35.9" fill="#f1b742"/><rect x="1107.6" y="637.3" width="35.2" height="35.9" fill="#f0b641"/><rect x="1142.2" y="637.3" width="35.2" height="35.9" fill="#efb541"/><rect x="1176.7" y="637.3" width="35.2" height="35.9" fill="#eeb646"/><rect x="1211.3" y="637.3" width="35.2" height="35.9" fill="#edb444"/><rect x="1245.9" y="637.3" width="35.2" height="35.9" fill="#ebb03d"/><rect x="1280.4" y="637.3" width="35.2" height="35.9" fill="#ebb03c"/><rect x="1315.0" y="637.3" width="35.2" height="35.9" fill="#eeb33f"/><rect x="1349.6" y="637.3" width="35.2" height="35.9" fill="#efb642"/><rect x="1384.1" y="637.3" width="35.2" height="35.9" fill="#f0b846"/><rect x="1418.7" y="637.3" width="35.2" height="35.9" fill="#f0b847"/><rect x="1453.3" y="637.3" width="35.2" height="35.9" fill="#efb643"/><rect x="1487.8" y="637.3" width="35.2" height="35.9" fill="#eeb440"/><rect x="1522.4" y="637.3" width="35.2" height="35.9" fill="#eeb33e"/><rect x="1557.0" y="637.3" width="35.2" height="35.9" fill="#eeb23c"/><rect x="1591.5" y="637.3" width="35.2" height="35.9" fill="#efb23b"/><rect x="1626.1" y="637.3" width="35.2" height="35.9" fill="#ecaf39"/><rect x="1660.7" y="637.3" width="35.2" height="35.9" fill="#e5a937"/><rect x="1695.2" y="637.3" width="35.2" height="35.9" fill="#dfa435"/><rect x="1729.8" y="637.3" width="35.2" height="35.9" fill="#d9a033"/><rect x="1764.4" y="637.3" width="35.2" height="35.9" fill="#d79e32"/><rect x="1798.9" y="637.3" width="35.2" height="35.9" fill="#d69e31"/><rect x="1833.5" y="637.3" width="35.2" height="35.9" fill="#d69e31"/><rect x="1868.1" y="637.3" width="35.2" height="35.9" fill="#d69e31"/><rect x="1902.6" y="637.3" width="35.2" height="35.9" fill="#d59d31"/><rect x="1937.2" y="637.3" width="35.2" height="35.9" fill="#d29a2f"/><rect x="1971.8" y="637.3" width="35.2" height="35.9" fill="#d1992e"/><rect x="2006.3" y="637.3" width="35.2" height="35.9" fill="#d1992e"/><rect x="2040.9" y="637.3" width="35.2" height="35.9" fill="#d1992e"/><rect x="2075.5" y="637.3" width="35.2" height="35.9" fill="#d1992e"/><rect x="2110.0" y="637.3" width="35.2" height="35.9" fill="#d1992f"/><rect x="2144.6" y="637.3" width="35.2" height="35.9" fill="#d19a2f"/><rect x="2179.2" y="637.3" width="35.2" height="35.9" fill="#d39c30"/><rect x="2213.7" y="637.3" width="35.2" height="35.9" fill="#d89f32"/><rect x="2248.3" y="637.3" width="35.2" height="35.9" fill="#dca233"/><rect x="2282.9" y="637.3" width="35.2" height="35.9" fill="#dfa434"/><rect x="2317.4" y="637.3" width="35.2" height="35.9" fill="#e0a535"/><rect x="2352.0" y="637.3" width="35.2" height="35.9" fill="#e0a535"/><rect x="2386.6" y="637.3" width="35.2" height="35.9" fill="#e0a535"/></g>
<path d="M278 322.5H1300.5M1338.5 322.5H2352" stroke="#f6cfa8" stroke-width="5" opacity="0.85"/>
<path d="M1319 37V303.5M1319 342.5V602" stroke="#f8d4a4" stroke-width="6" opacity="0.75"/>
<circle cx="1319.5" cy="323" r="18" fill="#a87438" fill-opacity="0.85" stroke="#f8d8a8" stroke-width="5"/>
<rect x="278" y="37" width="2074" height="4" fill="#5a4a25" opacity="0.25"/>
</g>
<g fill="#00c600"><circle cx="614.9" cy="277.4" r="14.6"/><circle cx="665.4" cy="277.4" r="14.6"/><circle cx="715.9" cy="277.4" r="14.6"/><circle cx="766.4" cy="277.4" r="14.6"/><circle cx="817.0" cy="277.4" r="14.6"/><circle cx="867.5" cy="277.4" r="14.6"/><circle cx="918.0" cy="277.4" r="14.6"/><circle cx="968.5" cy="277.4" r="14.6"/><circle cx="1019.0" cy="277.4" r="14.6"/><circle cx="1069.5" cy="277.4" r="14.6"/><circle cx="1120.0" cy="277.4" r="14.6"/><circle cx="1170.6" cy="277.4" r="14.6"/><circle cx="1221.1" cy="277.4" r="14.6"/><circle cx="1271.6" cy="277.4" r="14.6"/><circle cx="1322.1" cy="277.4" r="14.6"/><circle cx="1372.6" cy="277.4" r="14.6"/><circle cx="1423.1" cy="277.4" r="14.6"/><circle cx="1473.6" cy="277.4" r="14.6"/><circle cx="1524.2" cy="277.4" r="14.6"/><circle cx="1574.7" cy="277.4" r="14.6"/><circle cx="1625.2" cy="277.4" r="14.6"/><circle cx="1675.7" cy="277.4" r="14.6"/><circle cx="1726.2" cy="277.4" r="14.6"/><circle cx="1776.7" cy="277.4" r="14.6"/><circle cx="1827.2" cy="277.4" r="14.6"/><circle cx="1877.8" cy="277.4" r="14.6"/><circle cx="1928.3" cy="277.4" r="14.6"/><circle cx="1978.8" cy="277.4" r="14.6"/><circle cx="2029.3" cy="277.4" r="14.6"/></g>
<g fill="none" stroke="#000" stroke-width="3.4" stroke-linecap="square">
<rect x="263.5" y="621.0" width="2112.5" height="1369.3"/>
<path d="M263.5 1305.4H2376.0"/>
</g>
<path d="M474.5 621.0v19.0M474.5 1305.4v-19.0M474.5 1305.4v19.0M474.5 1990.3v-19.0M896.8 621.0v19.0M896.8 1305.4v-19.0M896.8 1305.4v19.0M896.8 1990.3v-19.0M1319.0 621.0v19.0M1319.0 1305.4v-19.0M1319.0 1305.4v19.0M1319.0 1990.3v-19.0M1741.2 621.0v19.0M1741.2 1305.4v-19.0M1741.2 1305.4v19.0M1741.2 1990.3v-19.0M2163.5 621.0v19.0M2163.5 1305.4v-19.0M2163.5 1305.4v19.0M2163.5 1990.3v-19.0M685.6 621.0v10.0M685.6 1305.4v-10.0M685.6 1305.4v10.0M685.6 1990.3v-10.0M1107.9 621.0v10.0M1107.9 1305.4v-10.0M1107.9 1305.4v10.0M1107.9 1990.3v-10.0M1530.1 621.0v10.0M1530.1 1305.4v-10.0M1530.1 1305.4v10.0M1530.1 1990.3v-10.0M1952.4 621.0v10.0M1952.4 1305.4v-10.0M1952.4 1305.4v10.0M1952.4 1990.3v-10.0M263.5 1219.7h19.0M2376.0 1219.7h-19.0M263.5 1048.8h19.0M2376.0 1048.8h-19.0M263.5 878.0h19.0M2376.0 878.0h-19.0M263.5 707.1h19.0M2376.0 707.1h-19.0M263.5 1134.2h10.0M2376.0 1134.2h-10.0M263.5 963.4h10.0M2376.0 963.4h-10.0M263.5 792.5h10.0M2376.0 792.5h-10.0M263.5 1838.4h19.0M2376.0 1838.4h-19.0M263.5 1686.3h19.0M2376.0 1686.3h-19.0M263.5 1534.2h19.0M2376.0 1534.2h-19.0M263.5 1382.1h19.0M2376.0 1382.1h-19.0M263.5 1914.5h10.0M2376.0 1914.5h-10.0M263.5 1762.3h10.0M2376.0 1762.3h-10.0M263.5 1610.2h10.0M2376.0 1610.2h-10.0M263.5 1458.1h10.0M2376.0 1458.1h-10.0" stroke="#000" stroke-width="3" fill="none"/>
<path d="M263.5 1686.3H2376.0" stroke="#1a1a1a" stroke-width="3" fill="none"/>
<g font-family="'Liberation Serif', 'Times New Roman', serif" font-size="72.5" fill="#000">
<text x="243" y="728.9" text-anchor="end">1.0</text><text x="243" y="899.8" text-anchor="end">0.8</text><text x="243" y="1070.6" text-anchor="end">0.6</text><text x="243" y="1241.5" text-anchor="end">0.4</text><text x="243" y="1403.9" text-anchor="end">20</text><text x="243" y="1556.0" text-anchor="end">10</text><text x="243" y="1708.1" text-anchor="end">0</text><text x="243" y="1860.2" text-anchor="end">&#8722;10</text><text x="243" y="2012.3" text-anchor="end">&#8722;20</text><text x="474.5" y="2067" text-anchor="middle">&#8722;0.10</text><text x="896.8" y="2067" text-anchor="middle">&#8722;0.05</text><text x="1319.0" y="2067" text-anchor="middle">0.00</text><text x="1741.2" y="2067" text-anchor="middle">0.05</text><text x="2163.5" y="2067" text-anchor="middle">0.10</text>
</g>
<g font-family="'Liberation Serif', 'Times New Roman', serif" font-size="76" fill="#000">
<text transform="translate(90.6,1144.5) rotate(-90)">Reflectivity</text>
<text transform="translate(93.4,1963.5) rotate(-90)">Kerr rotation (mdeg)</text>
<text x="1100.6" y="2174" textLength="437" lengthAdjust="spacingAndGlyphs">Position (mm)</text>
</g>
<g font-family="'Liberation Serif', 'Times New Roman', serif" font-size="121">
<text x="311.2" y="187.8" fill="#fff">(a)</text>
<text x="311.9" y="767.4" fill="#000">(b)</text>
<text x="312.2" y="1445.8" fill="#000">(c)</text>
</g>
<g font-family="'Liberation Serif', 'Times New Roman', serif" font-size="78" fill="#000">
<text x="1901.2" y="931.7">T = 7.5 K</text>
<text x="1861.7" y="1025.3">B = 200 mT</text>
</g>
<!-- legend -->
<rect x="1746" y="1350.5" width="596" height="199" fill="#000"/>
<rect x="1731.2" y="1335.5" width="597.3" height="198.6" fill="#fff" stroke="#8a8a8a" stroke-width="1.8"/>
<path d="M1742.5 1386.1H1813M1840 1386.1H1911.7" stroke="#707070" stroke-width="1.4"/>
<rect x="1815" y="1374.6" width="23" height="23" fill="#000"/>
<path d="M1742.5 1481H1811M1842 1481H1911.7" stroke="#d09098" stroke-width="1.6"/>
<circle cx="1826.4" cy="1481" r="11.8" fill="#fff" stroke="#c4566a" stroke-width="1.9"/>
<g font-family="'Liberation Serif', 'Times New Roman', serif" font-size="76" fill="#000">
<text x="1931" y="1413.4">MgFe-HTlc</text>
<text x="1932" y="1506.5">Pure Keratin</text>
</g>
<path d="M618.0 841.5L651.9 776.6M676.3 746.6L694.9 730.3M726.9 714.6L745.6 712.5M777.6 709.4L796.3 707.8M828.3 709.0L847.0 711.9M876.3 730.5L900.3 759.3M921.1 791.3L956.9 868.4M969.1 900.4L1010.2 1037.2M1021.3 1069.2L1059.3 1164.7M1075.1 1164.7L1106.9 1110.8M1125.0 1110.8L1158.2 1171.7M1171.9 1171.7L1212.7 1040.0M1221.2 1040.0L1264.7 1235.0M1284.3 1250.4L1303.0 1249.6M1327.5 1233.0L1361.1 1169.7M1376.1 1137.7L1413.8 1044.8M1432.7 1044.8L1458.7 1078.5M1487.0 1109.8L1505.7 1127.8M1527.6 1127.1L1566.3 1023.7M1580.5 1023.7L1614.9 1091.2M1632.4 1123.2L1664.2 1177.1M1689.7 1188.7L1708.3 1183.5M1740.3 1175.8L1759.0 1171.8M1791.0 1181.5L1809.7 1196.6M1841.7 1206.0L1860.3 1201.8M1892.3 1184.1L1911.0 1167.8M1943.0 1141.3L1961.7 1126.8M1993.7 1128.2L2012.4 1144.2" stroke="#707070" stroke-width="1.4" fill="none"/>
<path d="M598.1 846.0h23v23h-23zM648.8 749.1h23v23h-23zM699.4 704.8h23v23h-23zM750.1 699.3h23v23h-23zM800.8 694.9h23v23h-23zM851.5 703.0h23v23h-23zM902.1 763.8h23v23h-23zM952.8 872.9h23v23h-23zM1003.5 1041.7h23v23h-23zM1054.1 1169.2h23v23h-23zM1104.8 1083.3h23v23h-23zM1155.5 1176.2h23v23h-23zM1206.1 1012.5h23v23h-23zM1256.8 1239.5h23v23h-23zM1307.5 1237.5h23v23h-23zM1358.2 1142.2h23v23h-23zM1408.8 1017.3h23v23h-23zM1459.5 1083.0h23v23h-23zM1510.2 1131.6h23v23h-23zM1560.8 996.2h23v23h-23zM1611.5 1095.7h23v23h-23zM1662.2 1181.6h23v23h-23zM1712.8 1167.6h23v23h-23zM1763.5 1157.0h23v23h-23zM1814.2 1198.1h23v23h-23zM1864.8 1186.7h23v23h-23zM1915.5 1142.2h23v23h-23zM1966.2 1102.9h23v23h-23zM2016.9 1146.5h23v23h-23z" fill="#000"/>
<path d="M626.5 750.7L643.4 750.1M677.2 748.9L694.1 748.3M727.8 747.1L744.7 746.4M778.1 742.0L795.8 737.8M828.8 730.6L846.4 727.1M879.8 724.1L896.7 724.4M930.5 726.3L947.5 727.7M980.8 725.6L998.4 721.8M1031.8 717.6L1048.7 716.9M1082.3 713.3L1099.7 710.1M1132.7 711.3L1150.6 715.8M1183.9 720.0L1200.7 720.0M1234.3 717.4L1251.6 714.6M1285.1 710.1L1302.2 708.2M1334.8 712.2L1353.8 719.4M1386.2 722.1L1403.7 718.8M1437.2 717.0L1454.1 718.4M1487.9 720.5L1504.8 721.3M1538.5 723.8L1555.5 725.7M1589.2 728.9L1606.2 730.3M1639.9 731.6L1656.8 731.4M1690.4 733.8L1707.6 736.4M1741.2 739.3L1758.1 739.8M1791.9 741.5L1808.8 742.7M1842.5 745.5L1859.5 747.1M1892.8 752.3L1910.5 756.4M1943.9 761.2L1960.8 762.3M1994.3 766.7L2011.8 770.3" stroke="#d09098" stroke-width="1.6" fill="none"/>
<g fill="#fff" stroke="#c4566a" stroke-width="1.9"><circle cx="609.6" cy="751.3" r="11.8"/><circle cx="660.3" cy="749.5" r="11.8"/><circle cx="710.9" cy="747.7" r="11.8"/><circle cx="761.6" cy="745.8" r="11.8"/><circle cx="812.3" cy="734.0" r="11.8"/><circle cx="863.0" cy="723.7" r="11.8"/><circle cx="913.6" cy="724.8" r="11.8"/><circle cx="964.3" cy="729.2" r="11.8"/><circle cx="1015.0" cy="718.2" r="11.8"/><circle cx="1065.6" cy="716.3" r="11.8"/><circle cx="1116.3" cy="707.1" r="11.8"/><circle cx="1167.0" cy="720.0" r="11.8"/><circle cx="1217.6" cy="720.0" r="11.8"/><circle cx="1268.3" cy="712.0" r="11.8"/><circle cx="1319.0" cy="706.3" r="11.8"/><circle cx="1369.7" cy="725.3" r="11.8"/><circle cx="1420.3" cy="715.6" r="11.8"/><circle cx="1471.0" cy="719.8" r="11.8"/><circle cx="1521.7" cy="722.0" r="11.8"/><circle cx="1572.3" cy="727.5" r="11.8"/><circle cx="1623.0" cy="731.7" r="11.8"/><circle cx="1673.7" cy="731.3" r="11.8"/><circle cx="1724.3" cy="738.9" r="11.8"/><circle cx="1775.0" cy="740.2" r="11.8"/><circle cx="1825.7" cy="744.0" r="11.8"/><circle cx="1876.3" cy="748.6" r="11.8"/><circle cx="1927.0" cy="760.1" r="11.8"/><circle cx="1977.7" cy="763.4" r="11.8"/><circle cx="2028.4" cy="773.6" r="11.8"/></g>
<path d="M625.6 1665.8L644.3 1662.3M676.3 1653.3L694.9 1646.4M726.9 1642.0L745.6 1643.9M777.6 1646.6L796.3 1647.9M828.3 1650.9L847.0 1652.9M879.0 1656.8L897.6 1659.3M929.6 1667.8L948.3 1675.2M980.3 1682.5L999.0 1683.7M1025.9 1700.6L1054.7 1742.5M1081.6 1754.6L1100.3 1750.1M1132.3 1734.8L1151.0 1721.4M1173.8 1726.0L1210.8 1812.3M1219.4 1812.3L1266.5 1383.8M1276.7 1383.8L1310.6 1448.2M1322.6 1480.2L1366.0 1670.5M1385.7 1677.4L1404.3 1666.8M1435.1 1673.7L1456.2 1696.7M1477.1 1696.7L1515.5 1596.2M1524.0 1596.2L1570.0 1905.4M1574.5 1905.4L1620.8 1562.8M1639.0 1553.7L1657.7 1561.9M1677.9 1584.8L1720.1 1744.5M1734.5 1744.5L1764.8 1697.0M1791.0 1688.4L1809.7 1696.9M1841.7 1690.2L1860.3 1673.9M1892.3 1669.8L1911.0 1681.5M1943.0 1690.8L1961.7 1690.1M1993.7 1702.5L2012.4 1717.8" stroke="#707070" stroke-width="1.4" fill="none"/>
<path d="M598.1 1657.4h23v23h-23zM648.8 1647.7h23v23h-23zM699.4 1629.0h23v23h-23zM750.1 1633.9h23v23h-23zM800.8 1637.6h23v23h-23zM851.5 1643.2h23v23h-23zM902.1 1649.9h23v23h-23zM952.8 1670.1h23v23h-23zM1003.5 1673.1h23v23h-23zM1054.1 1747.0h23v23h-23zM1104.8 1734.7h23v23h-23zM1155.5 1698.5h23v23h-23zM1206.1 1816.8h23v23h-23zM1256.8 1356.3h23v23h-23zM1307.5 1452.7h23v23h-23zM1358.2 1675.0h23v23h-23zM1408.8 1646.2h23v23h-23zM1459.5 1701.2h23v23h-23zM1510.2 1568.7h23v23h-23zM1560.8 1909.9h23v23h-23zM1611.5 1535.3h23v23h-23zM1662.2 1557.3h23v23h-23zM1712.8 1749.0h23v23h-23zM1763.5 1669.5h23v23h-23zM1814.2 1692.8h23v23h-23zM1864.8 1648.3h23v23h-23zM1915.5 1680.0h23v23h-23zM1966.2 1677.9h23v23h-23zM2016.9 1719.4h23v23h-23z" fill="#000"/>
<path d="M626.3 1646.0L643.6 1648.5M677.2 1651.0L694.0 1651.0M727.8 1651.4L744.7 1651.7M778.3 1649.5L795.6 1646.8M829.1 1643.1L846.1 1642.0M879.8 1639.3L896.8 1637.6M930.5 1637.5L947.5 1639.0M981.0 1643.0L998.2 1645.5M1031.8 1648.7L1048.7 1649.5M1082.5 1650.5L1099.4 1650.7M1133.2 1652.0L1150.1 1653.0M1183.9 1654.2L1200.7 1654.5M1234.5 1654.2L1251.4 1653.7M1285.0 1655.6L1302.3 1658.2M1335.8 1661.7L1352.8 1662.9M1386.4 1666.1L1403.6 1668.3M1437.2 1671.4L1454.1 1672.3M1487.9 1672.6L1504.8 1671.9M1538.5 1670.2L1555.5 1669.3M1589.2 1668.6L1606.1 1668.8M1639.9 1668.1L1656.8 1667.2M1690.5 1664.8L1707.5 1663.3M1741.2 1661.2L1758.1 1660.5M1791.8 1661.5L1808.9 1663.2M1842.5 1663.6L1859.5 1662.4M1893.2 1659.3L1910.2 1657.4M1943.8 1657.4L1960.9 1659.3M1994.5 1662.4L2011.5 1663.6" stroke="#d09098" stroke-width="1.6" fill="none"/>
<g fill="#fff" stroke="#c4566a" stroke-width="1.9"><circle cx="609.6" cy="1643.5" r="11.8"/><circle cx="660.3" cy="1651.0" r="11.8"/><circle cx="710.9" cy="1651.0" r="11.8"/><circle cx="761.6" cy="1652.1" r="11.8"/><circle cx="812.3" cy="1644.2" r="11.8"/><circle cx="863.0" cy="1640.9" r="11.8"/><circle cx="913.6" cy="1636.0" r="11.8"/><circle cx="964.3" cy="1640.5" r="11.8"/><circle cx="1015.0" cy="1648.0" r="11.8"/><circle cx="1065.6" cy="1650.2" r="11.8"/><circle cx="1116.3" cy="1651.0" r="11.8"/><circle cx="1167.0" cy="1654.0" r="11.8"/><circle cx="1217.6" cy="1654.7" r="11.8"/><circle cx="1268.3" cy="1653.2" r="11.8"/><circle cx="1319.0" cy="1660.6" r="11.8"/><circle cx="1369.7" cy="1664.0" r="11.8"/><circle cx="1420.3" cy="1670.4" r="11.8"/><circle cx="1471.0" cy="1673.3" r="11.8"/><circle cx="1521.7" cy="1671.2" r="11.8"/><circle cx="1572.3" cy="1668.3" r="11.8"/><circle cx="1623.0" cy="1669.1" r="11.8"/><circle cx="1673.7" cy="1666.2" r="11.8"/><circle cx="1724.3" cy="1661.9" r="11.8"/><circle cx="1775.0" cy="1659.8" r="11.8"/><circle cx="1825.7" cy="1664.9" r="11.8"/><circle cx="1876.3" cy="1661.1" r="11.8"/><circle cx="1927.0" cy="1655.6" r="11.8"/><circle cx="1977.7" cy="1661.1" r="11.8"/><circle cx="2028.4" cy="1664.9" r="11.8"/></g>
<path d="M765 37.0V91.0M765 132.6V186.6M765 228.1V282.1M765 323.7V377.7M765 419.2V473.2M765 514.8V568.8M765 610.3V664.3M765 705.8V759.8M765 801.4V855.4M765 896.9V950.9M765 992.5V1046.5M765 1088.0V1142.0M765 1183.6V1237.6M765 1279.1V1333.1M765 1374.7V1428.7M765 1470.2V1524.2M765 1565.8V1619.8M765 1661.3V1715.3M765 1756.9V1810.9M765 1852.4V1906.4M765 1948.0V1980.0" stroke="#4472c4" stroke-width="12.5" fill="none"/>
<path d="M1271.9 37V1980" stroke="#0a0a0a" stroke-width="13.4" fill="none"/>
<g font-family="'Liberation Serif', 'Times New Roman', serif" font-size="84" font-weight="bold">
<text transform="translate(1254.7,936) rotate(-90)" fill="#000">HTlc</text>
<text transform="translate(744,1274.5) rotate(-90)" fill="#4472c4">Keratin</text>
</g>
</svg>
</body></html>
